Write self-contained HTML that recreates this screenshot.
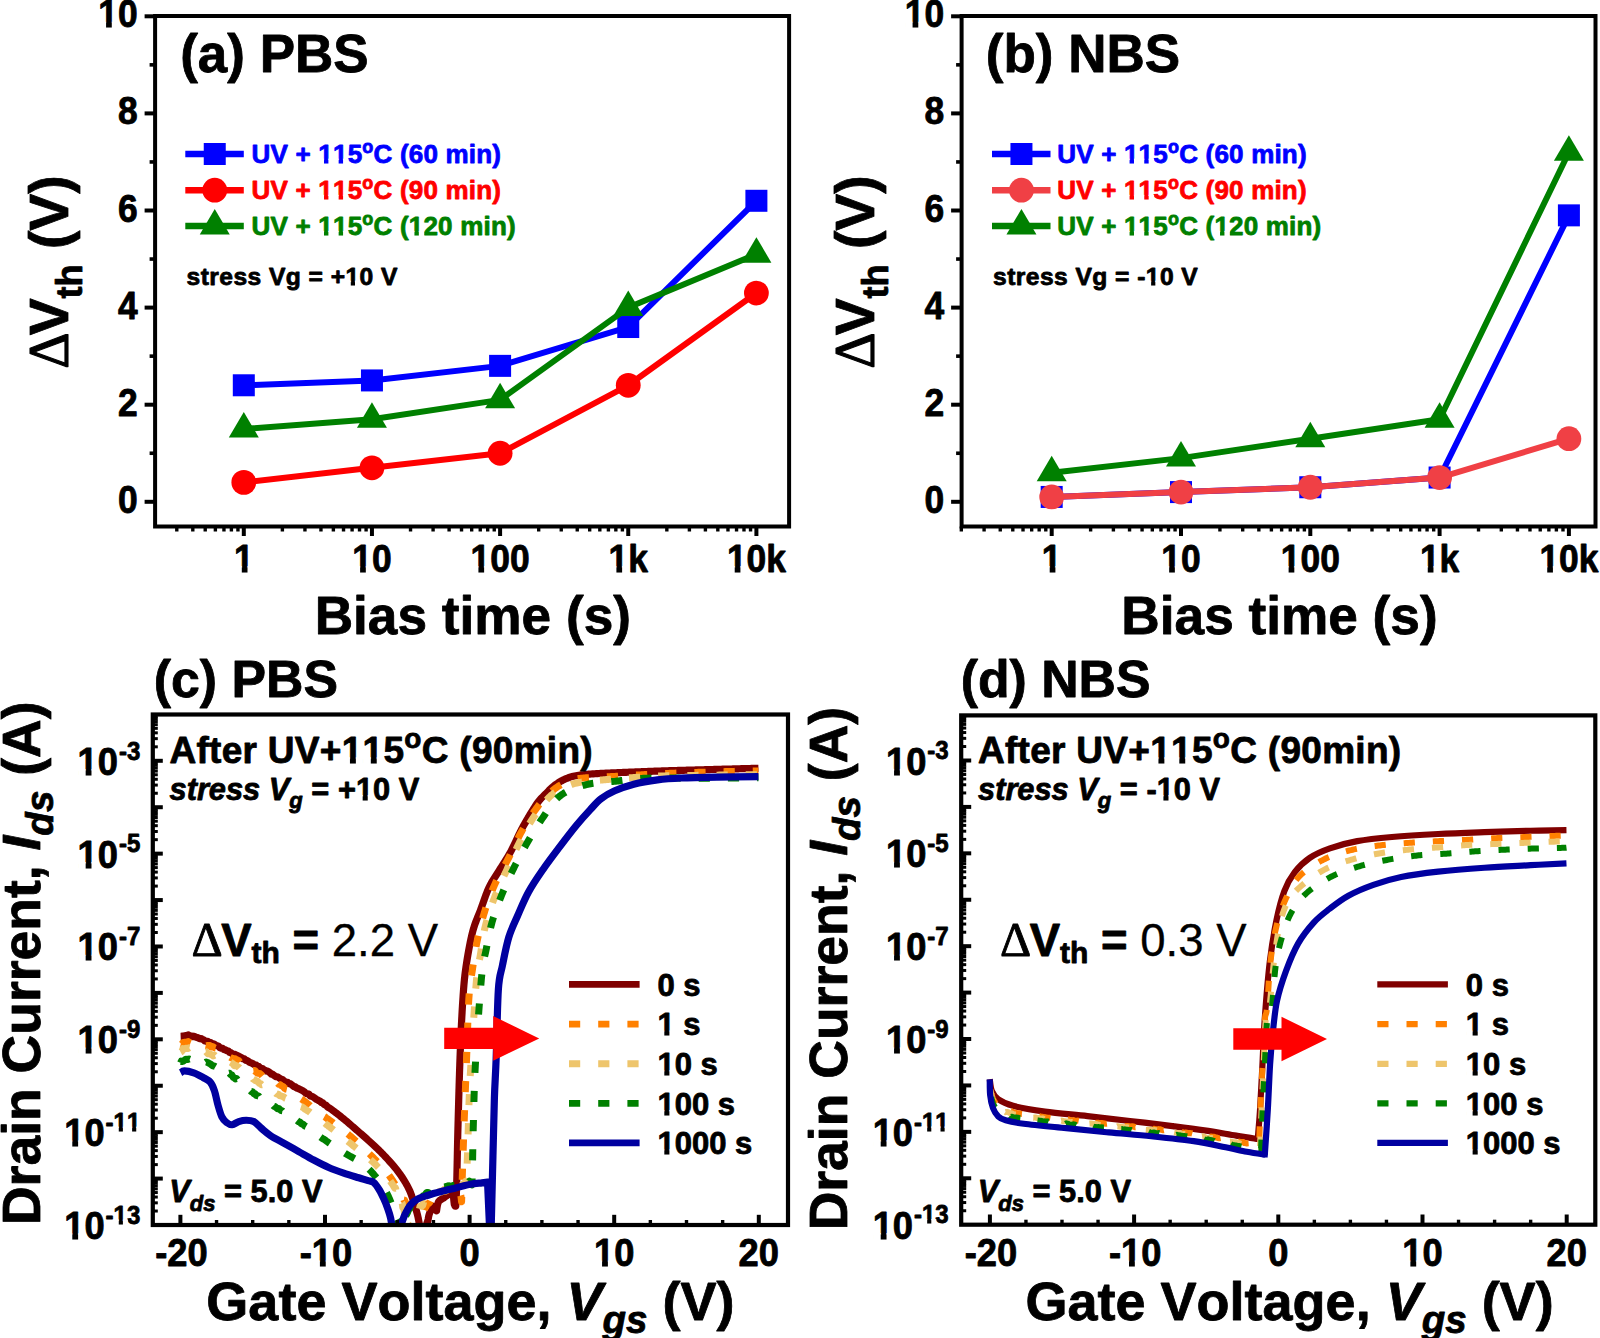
<!DOCTYPE html>
<html lang="en"><head><meta charset="utf-8"><title>Bias stress stability: PBS and NBS</title>
<style>html,body{margin:0;padding:0;background:#fff}body{width:1600px;height:1338px;overflow:hidden}svg{display:block}text{font-family:'Liberation Sans', Arial, Helvetica, sans-serif;font-kerning:none}</style></head><body>
<svg width="1600" height="1338" viewBox="0 0 1600 1338">
<rect x="0" y="0" width="1600" height="1338" fill="#fff"/>
<g>
<line x1="144.6" y1="501.8" x2="155.1" y2="501.8" stroke="#000" stroke-width="4"/>
<line x1="149.6" y1="453.25" x2="155.1" y2="453.25" stroke="#000" stroke-width="3.6"/>
<line x1="144.6" y1="404.7" x2="155.1" y2="404.7" stroke="#000" stroke-width="4"/>
<line x1="149.6" y1="356.15" x2="155.1" y2="356.15" stroke="#000" stroke-width="3.6"/>
<line x1="144.6" y1="307.6" x2="155.1" y2="307.6" stroke="#000" stroke-width="4"/>
<line x1="149.6" y1="259.05" x2="155.1" y2="259.05" stroke="#000" stroke-width="3.6"/>
<line x1="144.6" y1="210.5" x2="155.1" y2="210.5" stroke="#000" stroke-width="4"/>
<line x1="149.6" y1="161.95" x2="155.1" y2="161.95" stroke="#000" stroke-width="3.6"/>
<line x1="144.6" y1="113.4" x2="155.1" y2="113.4" stroke="#000" stroke-width="4"/>
<line x1="149.6" y1="64.85" x2="155.1" y2="64.85" stroke="#000" stroke-width="3.6"/>
<line x1="144.6" y1="16.3" x2="155.1" y2="16.3" stroke="#000" stroke-width="4"/>
<line x1="176.79" y1="526.5" x2="176.79" y2="531.5" stroke="#000" stroke-width="3.4"/>
<line x1="192.8" y1="526.5" x2="192.8" y2="531.5" stroke="#000" stroke-width="3.4"/>
<line x1="205.22" y1="526.5" x2="205.22" y2="531.5" stroke="#000" stroke-width="3.4"/>
<line x1="215.37" y1="526.5" x2="215.37" y2="531.5" stroke="#000" stroke-width="3.4"/>
<line x1="223.95" y1="526.5" x2="223.95" y2="531.5" stroke="#000" stroke-width="3.4"/>
<line x1="231.38" y1="526.5" x2="231.38" y2="531.5" stroke="#000" stroke-width="3.4"/>
<line x1="237.94" y1="526.5" x2="237.94" y2="531.5" stroke="#000" stroke-width="3.4"/>
<line x1="243.8" y1="526.5" x2="243.8" y2="536" stroke="#000" stroke-width="4"/>
<line x1="282.38" y1="526.5" x2="282.38" y2="531.5" stroke="#000" stroke-width="3.4"/>
<line x1="304.94" y1="526.5" x2="304.94" y2="531.5" stroke="#000" stroke-width="3.4"/>
<line x1="320.95" y1="526.5" x2="320.95" y2="531.5" stroke="#000" stroke-width="3.4"/>
<line x1="333.37" y1="526.5" x2="333.37" y2="531.5" stroke="#000" stroke-width="3.4"/>
<line x1="343.52" y1="526.5" x2="343.52" y2="531.5" stroke="#000" stroke-width="3.4"/>
<line x1="352.1" y1="526.5" x2="352.1" y2="531.5" stroke="#000" stroke-width="3.4"/>
<line x1="359.53" y1="526.5" x2="359.53" y2="531.5" stroke="#000" stroke-width="3.4"/>
<line x1="366.09" y1="526.5" x2="366.09" y2="531.5" stroke="#000" stroke-width="3.4"/>
<line x1="371.95" y1="526.5" x2="371.95" y2="536" stroke="#000" stroke-width="4"/>
<line x1="410.53" y1="526.5" x2="410.53" y2="531.5" stroke="#000" stroke-width="3.4"/>
<line x1="433.09" y1="526.5" x2="433.09" y2="531.5" stroke="#000" stroke-width="3.4"/>
<line x1="449.1" y1="526.5" x2="449.1" y2="531.5" stroke="#000" stroke-width="3.4"/>
<line x1="461.52" y1="526.5" x2="461.52" y2="531.5" stroke="#000" stroke-width="3.4"/>
<line x1="471.67" y1="526.5" x2="471.67" y2="531.5" stroke="#000" stroke-width="3.4"/>
<line x1="480.25" y1="526.5" x2="480.25" y2="531.5" stroke="#000" stroke-width="3.4"/>
<line x1="487.68" y1="526.5" x2="487.68" y2="531.5" stroke="#000" stroke-width="3.4"/>
<line x1="494.24" y1="526.5" x2="494.24" y2="531.5" stroke="#000" stroke-width="3.4"/>
<line x1="500.1" y1="526.5" x2="500.1" y2="536" stroke="#000" stroke-width="4"/>
<line x1="538.68" y1="526.5" x2="538.68" y2="531.5" stroke="#000" stroke-width="3.4"/>
<line x1="561.24" y1="526.5" x2="561.24" y2="531.5" stroke="#000" stroke-width="3.4"/>
<line x1="577.25" y1="526.5" x2="577.25" y2="531.5" stroke="#000" stroke-width="3.4"/>
<line x1="589.67" y1="526.5" x2="589.67" y2="531.5" stroke="#000" stroke-width="3.4"/>
<line x1="599.82" y1="526.5" x2="599.82" y2="531.5" stroke="#000" stroke-width="3.4"/>
<line x1="608.4" y1="526.5" x2="608.4" y2="531.5" stroke="#000" stroke-width="3.4"/>
<line x1="615.83" y1="526.5" x2="615.83" y2="531.5" stroke="#000" stroke-width="3.4"/>
<line x1="622.39" y1="526.5" x2="622.39" y2="531.5" stroke="#000" stroke-width="3.4"/>
<line x1="628.25" y1="526.5" x2="628.25" y2="536" stroke="#000" stroke-width="4"/>
<line x1="666.83" y1="526.5" x2="666.83" y2="531.5" stroke="#000" stroke-width="3.4"/>
<line x1="689.39" y1="526.5" x2="689.39" y2="531.5" stroke="#000" stroke-width="3.4"/>
<line x1="705.4" y1="526.5" x2="705.4" y2="531.5" stroke="#000" stroke-width="3.4"/>
<line x1="717.82" y1="526.5" x2="717.82" y2="531.5" stroke="#000" stroke-width="3.4"/>
<line x1="727.97" y1="526.5" x2="727.97" y2="531.5" stroke="#000" stroke-width="3.4"/>
<line x1="736.55" y1="526.5" x2="736.55" y2="531.5" stroke="#000" stroke-width="3.4"/>
<line x1="743.98" y1="526.5" x2="743.98" y2="531.5" stroke="#000" stroke-width="3.4"/>
<line x1="750.54" y1="526.5" x2="750.54" y2="531.5" stroke="#000" stroke-width="3.4"/>
<line x1="756.4" y1="526.5" x2="756.4" y2="536" stroke="#000" stroke-width="4"/>
<rect x="155.1" y="16" width="634" height="510.5" fill="none" stroke="#000" stroke-width="4"/>
<text transform="translate(137.6 512.8) scale(1 1.08)" font-size="35.4" text-anchor="end" font-weight="bold" fill="#000" stroke="#000" stroke-width="0.8" stroke-linejoin="round">0</text>
<text transform="translate(137.6 415.7) scale(1 1.08)" font-size="35.4" text-anchor="end" font-weight="bold" fill="#000" stroke="#000" stroke-width="0.8" stroke-linejoin="round">2</text>
<text transform="translate(137.6 318.6) scale(1 1.08)" font-size="35.4" text-anchor="end" font-weight="bold" fill="#000" stroke="#000" stroke-width="0.8" stroke-linejoin="round">4</text>
<text transform="translate(137.6 221.5) scale(1 1.08)" font-size="35.4" text-anchor="end" font-weight="bold" fill="#000" stroke="#000" stroke-width="0.8" stroke-linejoin="round">6</text>
<text transform="translate(137.6 124.4) scale(1 1.08)" font-size="35.4" text-anchor="end" font-weight="bold" fill="#000" stroke="#000" stroke-width="0.8" stroke-linejoin="round">8</text>
<text transform="translate(137.6 27.3) scale(1 1.08)" font-size="35.4" text-anchor="end" font-weight="bold" fill="#000" stroke="#000" stroke-width="0.8" stroke-linejoin="round">10</text>
<text transform="translate(243.8 571.6) scale(1 1.08)" font-size="35.4" text-anchor="middle" font-weight="bold" fill="#000" stroke="#000" stroke-width="0.8" stroke-linejoin="round">1</text>
<text transform="translate(371.95 571.6) scale(1 1.08)" font-size="35.4" text-anchor="middle" font-weight="bold" fill="#000" stroke="#000" stroke-width="0.8" stroke-linejoin="round">10</text>
<text transform="translate(500.1 571.6) scale(1 1.08)" font-size="35.4" text-anchor="middle" font-weight="bold" fill="#000" stroke="#000" stroke-width="0.8" stroke-linejoin="round">100</text>
<text transform="translate(628.25 571.6) scale(1 1.08)" font-size="35.4" text-anchor="middle" font-weight="bold" fill="#000" stroke="#000" stroke-width="0.8" stroke-linejoin="round">1k</text>
<text transform="translate(756.4 571.6) scale(1 1.08)" font-size="35.4" text-anchor="middle" font-weight="bold" fill="#000" stroke="#000" stroke-width="0.8" stroke-linejoin="round">10k</text>
<text x="472.8" y="633.6" font-size="53.2" text-anchor="middle" font-weight="bold" fill="#000" stroke="#000" stroke-width="0.8" stroke-linejoin="round">Bias time (s)</text>
<text transform="translate(67.5 272) rotate(-90)" font-size="55.3" text-anchor="middle" font-weight="bold" fill="#000" stroke="#000" stroke-width="0.8" stroke-linejoin="round"><tspan font-family="'Liberation Serif','DejaVu Serif',serif" font-weight="normal" font-size="56.5" stroke-width="1.1">Δ</tspan><tspan dx="-3">V</tspan><tspan font-size="36" dy="14">th</tspan><tspan dy="-14"> (V)</tspan></text>
<text x="180.2" y="72" font-size="53" text-anchor="start" font-weight="bold" fill="#000" stroke="#000" stroke-width="0.8" stroke-linejoin="round">(a) PBS</text>
<path d="M243.8 385.28L371.95 380.43L500.1 365.86L628.25 327.02L756.4 200.79" fill="none" stroke="#0000ff" stroke-width="6" stroke-linejoin="round"/>
<rect x="232.8" y="374.28" width="22" height="22" fill="#0000ff"/>
<rect x="360.95" y="369.43" width="22" height="22" fill="#0000ff"/>
<rect x="489.1" y="354.86" width="22" height="22" fill="#0000ff"/>
<rect x="617.25" y="316.02" width="22" height="22" fill="#0000ff"/>
<rect x="745.4" y="189.79" width="22" height="22" fill="#0000ff"/>
<path d="M243.8 482.38L371.95 467.81L500.1 453.25L628.25 385.28L756.4 293.04" fill="none" stroke="#ff0000" stroke-width="6" stroke-linejoin="round"/>
<circle cx="243.8" cy="482.38" r="12.4" fill="#ff0000"/>
<circle cx="371.95" cy="467.81" r="12.4" fill="#ff0000"/>
<circle cx="500.1" cy="453.25" r="12.4" fill="#ff0000"/>
<circle cx="628.25" cy="385.28" r="12.4" fill="#ff0000"/>
<circle cx="756.4" cy="293.04" r="12.4" fill="#ff0000"/>
<path d="M243.8 428.98L371.95 419.26L500.1 399.85L628.25 307.6L756.4 254.2" fill="none" stroke="#008000" stroke-width="6" stroke-linejoin="round"/>
<path d="M243.8 411.98L258.8 437.48L228.8 437.48Z" fill="#008000"/>
<path d="M371.95 402.26L386.95 427.76L356.95 427.76Z" fill="#008000"/>
<path d="M500.1 382.85L515.1 408.35L485.1 408.35Z" fill="#008000"/>
<path d="M628.25 290.6L643.25 316.1L613.25 316.1Z" fill="#008000"/>
<path d="M756.4 237.2L771.4 262.7L741.4 262.7Z" fill="#008000"/>
<line x1="185.3" y1="154" x2="243.8" y2="154" stroke="#0000ff" stroke-width="6.5"/>
<rect x="203.75" y="143" width="22" height="22" fill="#0000ff"/>
<text x="251.6" y="162.8" font-size="26" text-anchor="start" font-weight="bold" fill="#0000ff" stroke="#0000ff" stroke-width="0.8" stroke-linejoin="round" letter-spacing="0.2">UV + 115<tspan font-size="18" dy="-10">o</tspan><tspan dy="10">C (60 min)</tspan></text>
<line x1="185.3" y1="190.2" x2="243.8" y2="190.2" stroke="#ff0000" stroke-width="6.5"/>
<circle cx="214.75" cy="190.2" r="12.4" fill="#ff0000"/>
<text x="251.6" y="199" font-size="26" text-anchor="start" font-weight="bold" fill="#ff0000" stroke="#ff0000" stroke-width="0.8" stroke-linejoin="round" letter-spacing="0.2">UV + 115<tspan font-size="18" dy="-10">o</tspan><tspan dy="10">C (90 min)</tspan></text>
<line x1="185.3" y1="226" x2="243.8" y2="226" stroke="#008000" stroke-width="6.5"/>
<path d="M214.75 209L229.75 234.5L199.75 234.5Z" fill="#008000"/>
<text x="251.6" y="235" font-size="26" text-anchor="start" font-weight="bold" fill="#008000" stroke="#008000" stroke-width="0.8" stroke-linejoin="round" letter-spacing="0.2">UV + 115<tspan font-size="18" dy="-10">o</tspan><tspan dy="10">C (120 min)</tspan></text>
<text x="186.5" y="284.7" font-size="24.6" text-anchor="start" font-weight="bold" fill="#000" stroke="#000" stroke-width="0.8" stroke-linejoin="round" letter-spacing="0.45">stress Vg = +10 V</text>
</g>
<g>
<line x1="951.1" y1="501.8" x2="961.6" y2="501.8" stroke="#000" stroke-width="4"/>
<line x1="956.1" y1="453.25" x2="961.6" y2="453.25" stroke="#000" stroke-width="3.6"/>
<line x1="951.1" y1="404.7" x2="961.6" y2="404.7" stroke="#000" stroke-width="4"/>
<line x1="956.1" y1="356.15" x2="961.6" y2="356.15" stroke="#000" stroke-width="3.6"/>
<line x1="951.1" y1="307.6" x2="961.6" y2="307.6" stroke="#000" stroke-width="4"/>
<line x1="956.1" y1="259.05" x2="961.6" y2="259.05" stroke="#000" stroke-width="3.6"/>
<line x1="951.1" y1="210.5" x2="961.6" y2="210.5" stroke="#000" stroke-width="4"/>
<line x1="956.1" y1="161.95" x2="961.6" y2="161.95" stroke="#000" stroke-width="3.6"/>
<line x1="951.1" y1="113.4" x2="961.6" y2="113.4" stroke="#000" stroke-width="4"/>
<line x1="956.1" y1="64.85" x2="961.6" y2="64.85" stroke="#000" stroke-width="3.6"/>
<line x1="951.1" y1="16.3" x2="961.6" y2="16.3" stroke="#000" stroke-width="4"/>
<line x1="961.32" y1="526.5" x2="961.32" y2="531.5" stroke="#000" stroke-width="3.4"/>
<line x1="984.09" y1="526.5" x2="984.09" y2="531.5" stroke="#000" stroke-width="3.4"/>
<line x1="1000.25" y1="526.5" x2="1000.25" y2="531.5" stroke="#000" stroke-width="3.4"/>
<line x1="1012.78" y1="526.5" x2="1012.78" y2="531.5" stroke="#000" stroke-width="3.4"/>
<line x1="1023.01" y1="526.5" x2="1023.01" y2="531.5" stroke="#000" stroke-width="3.4"/>
<line x1="1031.67" y1="526.5" x2="1031.67" y2="531.5" stroke="#000" stroke-width="3.4"/>
<line x1="1039.17" y1="526.5" x2="1039.17" y2="531.5" stroke="#000" stroke-width="3.4"/>
<line x1="1045.78" y1="526.5" x2="1045.78" y2="531.5" stroke="#000" stroke-width="3.4"/>
<line x1="1051.7" y1="526.5" x2="1051.7" y2="536" stroke="#000" stroke-width="4"/>
<line x1="1090.62" y1="526.5" x2="1090.62" y2="531.5" stroke="#000" stroke-width="3.4"/>
<line x1="1113.39" y1="526.5" x2="1113.39" y2="531.5" stroke="#000" stroke-width="3.4"/>
<line x1="1129.55" y1="526.5" x2="1129.55" y2="531.5" stroke="#000" stroke-width="3.4"/>
<line x1="1142.08" y1="526.5" x2="1142.08" y2="531.5" stroke="#000" stroke-width="3.4"/>
<line x1="1152.31" y1="526.5" x2="1152.31" y2="531.5" stroke="#000" stroke-width="3.4"/>
<line x1="1160.97" y1="526.5" x2="1160.97" y2="531.5" stroke="#000" stroke-width="3.4"/>
<line x1="1168.47" y1="526.5" x2="1168.47" y2="531.5" stroke="#000" stroke-width="3.4"/>
<line x1="1175.08" y1="526.5" x2="1175.08" y2="531.5" stroke="#000" stroke-width="3.4"/>
<line x1="1181" y1="526.5" x2="1181" y2="536" stroke="#000" stroke-width="4"/>
<line x1="1219.92" y1="526.5" x2="1219.92" y2="531.5" stroke="#000" stroke-width="3.4"/>
<line x1="1242.69" y1="526.5" x2="1242.69" y2="531.5" stroke="#000" stroke-width="3.4"/>
<line x1="1258.85" y1="526.5" x2="1258.85" y2="531.5" stroke="#000" stroke-width="3.4"/>
<line x1="1271.38" y1="526.5" x2="1271.38" y2="531.5" stroke="#000" stroke-width="3.4"/>
<line x1="1281.61" y1="526.5" x2="1281.61" y2="531.5" stroke="#000" stroke-width="3.4"/>
<line x1="1290.27" y1="526.5" x2="1290.27" y2="531.5" stroke="#000" stroke-width="3.4"/>
<line x1="1297.77" y1="526.5" x2="1297.77" y2="531.5" stroke="#000" stroke-width="3.4"/>
<line x1="1304.38" y1="526.5" x2="1304.38" y2="531.5" stroke="#000" stroke-width="3.4"/>
<line x1="1310.3" y1="526.5" x2="1310.3" y2="536" stroke="#000" stroke-width="4"/>
<line x1="1349.22" y1="526.5" x2="1349.22" y2="531.5" stroke="#000" stroke-width="3.4"/>
<line x1="1371.99" y1="526.5" x2="1371.99" y2="531.5" stroke="#000" stroke-width="3.4"/>
<line x1="1388.15" y1="526.5" x2="1388.15" y2="531.5" stroke="#000" stroke-width="3.4"/>
<line x1="1400.68" y1="526.5" x2="1400.68" y2="531.5" stroke="#000" stroke-width="3.4"/>
<line x1="1410.91" y1="526.5" x2="1410.91" y2="531.5" stroke="#000" stroke-width="3.4"/>
<line x1="1419.57" y1="526.5" x2="1419.57" y2="531.5" stroke="#000" stroke-width="3.4"/>
<line x1="1427.07" y1="526.5" x2="1427.07" y2="531.5" stroke="#000" stroke-width="3.4"/>
<line x1="1433.68" y1="526.5" x2="1433.68" y2="531.5" stroke="#000" stroke-width="3.4"/>
<line x1="1439.6" y1="526.5" x2="1439.6" y2="536" stroke="#000" stroke-width="4"/>
<line x1="1478.52" y1="526.5" x2="1478.52" y2="531.5" stroke="#000" stroke-width="3.4"/>
<line x1="1501.29" y1="526.5" x2="1501.29" y2="531.5" stroke="#000" stroke-width="3.4"/>
<line x1="1517.45" y1="526.5" x2="1517.45" y2="531.5" stroke="#000" stroke-width="3.4"/>
<line x1="1529.98" y1="526.5" x2="1529.98" y2="531.5" stroke="#000" stroke-width="3.4"/>
<line x1="1540.21" y1="526.5" x2="1540.21" y2="531.5" stroke="#000" stroke-width="3.4"/>
<line x1="1548.87" y1="526.5" x2="1548.87" y2="531.5" stroke="#000" stroke-width="3.4"/>
<line x1="1556.37" y1="526.5" x2="1556.37" y2="531.5" stroke="#000" stroke-width="3.4"/>
<line x1="1562.98" y1="526.5" x2="1562.98" y2="531.5" stroke="#000" stroke-width="3.4"/>
<line x1="1568.9" y1="526.5" x2="1568.9" y2="536" stroke="#000" stroke-width="4"/>
<rect x="961.6" y="16" width="633.9" height="510.5" fill="none" stroke="#000" stroke-width="4"/>
<text transform="translate(944.1 512.8) scale(1 1.08)" font-size="35.4" text-anchor="end" font-weight="bold" fill="#000" stroke="#000" stroke-width="0.8" stroke-linejoin="round">0</text>
<text transform="translate(944.1 415.7) scale(1 1.08)" font-size="35.4" text-anchor="end" font-weight="bold" fill="#000" stroke="#000" stroke-width="0.8" stroke-linejoin="round">2</text>
<text transform="translate(944.1 318.6) scale(1 1.08)" font-size="35.4" text-anchor="end" font-weight="bold" fill="#000" stroke="#000" stroke-width="0.8" stroke-linejoin="round">4</text>
<text transform="translate(944.1 221.5) scale(1 1.08)" font-size="35.4" text-anchor="end" font-weight="bold" fill="#000" stroke="#000" stroke-width="0.8" stroke-linejoin="round">6</text>
<text transform="translate(944.1 124.4) scale(1 1.08)" font-size="35.4" text-anchor="end" font-weight="bold" fill="#000" stroke="#000" stroke-width="0.8" stroke-linejoin="round">8</text>
<text transform="translate(944.1 27.3) scale(1 1.08)" font-size="35.4" text-anchor="end" font-weight="bold" fill="#000" stroke="#000" stroke-width="0.8" stroke-linejoin="round">10</text>
<text transform="translate(1051.7 571.6) scale(1 1.08)" font-size="35.4" text-anchor="middle" font-weight="bold" fill="#000" stroke="#000" stroke-width="0.8" stroke-linejoin="round">1</text>
<text transform="translate(1181 571.6) scale(1 1.08)" font-size="35.4" text-anchor="middle" font-weight="bold" fill="#000" stroke="#000" stroke-width="0.8" stroke-linejoin="round">10</text>
<text transform="translate(1310.3 571.6) scale(1 1.08)" font-size="35.4" text-anchor="middle" font-weight="bold" fill="#000" stroke="#000" stroke-width="0.8" stroke-linejoin="round">100</text>
<text transform="translate(1439.6 571.6) scale(1 1.08)" font-size="35.4" text-anchor="middle" font-weight="bold" fill="#000" stroke="#000" stroke-width="0.8" stroke-linejoin="round">1k</text>
<text transform="translate(1568.9 571.6) scale(1 1.08)" font-size="35.4" text-anchor="middle" font-weight="bold" fill="#000" stroke="#000" stroke-width="0.8" stroke-linejoin="round">10k</text>
<text x="1279.5" y="633.6" font-size="53.2" text-anchor="middle" font-weight="bold" fill="#000" stroke="#000" stroke-width="0.8" stroke-linejoin="round">Bias time (s)</text>
<text transform="translate(874 272) rotate(-90)" font-size="55.3" text-anchor="middle" font-weight="bold" fill="#000" stroke="#000" stroke-width="0.8" stroke-linejoin="round"><tspan font-family="'Liberation Serif','DejaVu Serif',serif" font-weight="normal" font-size="56.5" stroke-width="1.1">Δ</tspan><tspan dx="-3">V</tspan><tspan font-size="36" dy="14">th</tspan><tspan dy="-14"> (V)</tspan></text>
<text x="985.8" y="72" font-size="53" text-anchor="start" font-weight="bold" fill="#000" stroke="#000" stroke-width="0.8" stroke-linejoin="round">(b) NBS</text>
<path d="M1051.7 496.94L1181 492.09L1310.3 487.24L1439.6 477.53L1568.9 215.36" fill="none" stroke="#0000ff" stroke-width="6" stroke-linejoin="round"/>
<rect x="1040.7" y="485.94" width="22" height="22" fill="#0000ff"/>
<rect x="1170" y="481.09" width="22" height="22" fill="#0000ff"/>
<rect x="1299.3" y="476.24" width="22" height="22" fill="#0000ff"/>
<rect x="1428.6" y="466.53" width="22" height="22" fill="#0000ff"/>
<rect x="1557.9" y="204.36" width="22" height="22" fill="#0000ff"/>
<path d="M1051.7 496.94L1181 492.09L1310.3 487.24L1439.6 477.53L1568.9 438.69" fill="none" stroke="#f04045" stroke-width="6" stroke-linejoin="round"/>
<circle cx="1051.7" cy="496.94" r="12.4" fill="#f04045"/>
<circle cx="1181" cy="492.09" r="12.4" fill="#f04045"/>
<circle cx="1310.3" cy="487.24" r="12.4" fill="#f04045"/>
<circle cx="1439.6" cy="477.53" r="12.4" fill="#f04045"/>
<circle cx="1568.9" cy="438.69" r="12.4" fill="#f04045"/>
<path d="M1051.7 472.67L1181 458.11L1310.3 438.69L1439.6 419.26L1568.9 152.24" fill="none" stroke="#008000" stroke-width="6" stroke-linejoin="round"/>
<path d="M1051.7 455.67L1066.7 481.17L1036.7 481.17Z" fill="#008000"/>
<path d="M1181 441.11L1196 466.61L1166 466.61Z" fill="#008000"/>
<path d="M1310.3 421.69L1325.3 447.19L1295.3 447.19Z" fill="#008000"/>
<path d="M1439.6 402.26L1454.6 427.76L1424.6 427.76Z" fill="#008000"/>
<path d="M1568.9 135.24L1583.9 160.74L1553.9 160.74Z" fill="#008000"/>
<line x1="992" y1="154" x2="1050.5" y2="154" stroke="#0000ff" stroke-width="6.5"/>
<rect x="1010.45" y="143" width="22" height="22" fill="#0000ff"/>
<text x="1057.2" y="162.8" font-size="26" text-anchor="start" font-weight="bold" fill="#0000ff" stroke="#0000ff" stroke-width="0.8" stroke-linejoin="round" letter-spacing="0.2">UV + 115<tspan font-size="18" dy="-10">o</tspan><tspan dy="10">C (60 min)</tspan></text>
<line x1="992" y1="190.2" x2="1050.5" y2="190.2" stroke="#f04045" stroke-width="6.5"/>
<circle cx="1021.45" cy="190.2" r="12.4" fill="#f04045"/>
<text x="1057.2" y="199" font-size="26" text-anchor="start" font-weight="bold" fill="#ff0000" stroke="#ff0000" stroke-width="0.8" stroke-linejoin="round" letter-spacing="0.2">UV + 115<tspan font-size="18" dy="-10">o</tspan><tspan dy="10">C (90 min)</tspan></text>
<line x1="992" y1="226" x2="1050.5" y2="226" stroke="#008000" stroke-width="6.5"/>
<path d="M1021.45 209L1036.45 234.5L1006.45 234.5Z" fill="#008000"/>
<text x="1057.2" y="235" font-size="26" text-anchor="start" font-weight="bold" fill="#008000" stroke="#008000" stroke-width="0.8" stroke-linejoin="round" letter-spacing="0.2">UV + 115<tspan font-size="18" dy="-10">o</tspan><tspan dy="10">C (120 min)</tspan></text>
<text x="993" y="284.7" font-size="24.6" text-anchor="start" font-weight="bold" fill="#000" stroke="#000" stroke-width="0.8" stroke-linejoin="round" letter-spacing="0.45">stress Vg = -10 V</text>
</g>
<g>
<clipPath id="clipc"><rect x="152.8" y="714.5" width="635.2" height="510.5"/></clipPath>
<g clip-path="url(#clipc)" fill="none" stroke-linejoin="round">
<path d="M180.63 1036.36L181.42 1036.33L182.5 1036.15L183.79 1036.03L185.21 1035.63L186.68 1035.66L188.13 1034.89L189.32 1035.42L190.5 1036.06L191.72 1036.07L192.99 1036.64L194.36 1036.35L195.85 1037.16L197.5 1037.52L198.62 1038.18L199.78 1038.62L200.98 1038.56L202.23 1039.21L203.52 1039.76L204.86 1040.87L206.26 1041.3L207.72 1041.36L209.24 1042.58L210.83 1042.68L212.5 1043.86L213.63 1043.93L214.8 1044.35L216.02 1045.7L217.28 1045.7L218.57 1046.31L219.89 1047.63L221.23 1048.18L222.59 1048.31L223.97 1049.59L225.36 1049.89L226.76 1050.7L228.15 1050.96L229.55 1052.31L230.93 1052.77L232.31 1053.7L233.66 1054.31L235 1054.44L236.32 1055.16L237.65 1055.65L238.97 1056.31L240.29 1056.91L241.62 1057.79L242.94 1058.74L244.27 1058.88L245.59 1060.17L246.91 1060.55L248.24 1061.22L249.56 1062.36L250.88 1062.75L252.21 1063.29L253.53 1064.14L254.85 1065.04L256.18 1065.15L257.5 1066.68L258.75 1066.48L260 1067.8L261.25 1068.56L262.5 1068.48L263.75 1069.84L265 1070.14L266.25 1071L267.5 1071.17L268.75 1071.88L270 1072.68L271.25 1074.05L272.5 1074.05L273.75 1075.24L275 1076.08L276.25 1076.78L277.5 1076.92L278.75 1077.62L280 1078.46L281.26 1079.38L282.52 1079.47L283.79 1080.75L285.07 1081.5L286.36 1082.26L287.64 1082.23L288.92 1083.76L290.21 1083.7L291.49 1084.63L292.76 1085.59L294.02 1086.57L295.28 1086.75L296.52 1087.98L297.75 1088.33L298.97 1088.81L300.17 1089.5L301.34 1090.04L302.5 1090.62L303.86 1091.47L305.19 1092.72L306.49 1093.74L307.77 1093.73L309.03 1094.35L310.27 1095.92L311.5 1096.23L312.72 1096.83L313.93 1097.4L315.14 1098.45L316.35 1099.4L317.56 1099.83L318.78 1100.57L320.01 1101.03L321.25 1102.63L322.42 1102.61L323.59 1103.82L324.77 1104.94L325.94 1105.12L327.11 1106.48L328.28 1107.51L329.45 1108.07L330.63 1108.8L331.8 1109.66L332.97 1110.53L334.14 1111.41L335.31 1112.3L336.49 1113.2L337.66 1114.1L338.83 1115.02L340 1115.94L341.1 1116.82L342.21 1117.7L343.31 1118.6L344.41 1119.51L345.52 1120.43L346.62 1121.36L347.72 1122.29L348.82 1123.23L349.93 1124.18L351.03 1125.13L352.13 1126.09L353.24 1127.05L354.34 1128.01L355.44 1128.98L356.55 1129.94L357.65 1130.91L358.75 1131.88L359.86 1132.85L360.98 1133.82L362.11 1134.81L363.24 1135.8L364.38 1136.8L365.52 1137.8L366.66 1138.8L367.79 1139.81L368.93 1140.82L370.05 1141.82L371.16 1142.83L372.26 1143.83L373.35 1144.82L374.42 1145.82L375.47 1146.8L376.5 1147.78L377.5 1148.75L378.62 1149.85L379.73 1150.95L380.83 1152.06L381.92 1153.17L382.99 1154.27L384.04 1155.37L385.08 1156.47L386.09 1157.55L387.09 1158.63L388.06 1159.69L389 1160.73L389.92 1161.76L390.81 1162.76L391.67 1163.74L392.5 1164.69L393.57 1165.93L394.57 1167.12L395.51 1168.26L396.4 1169.36L397.25 1170.43L398.06 1171.48L398.84 1172.53L399.61 1173.59L400.36 1174.65L401.12 1175.75L401.88 1176.88L402.64 1178.03L403.39 1179.21L404.13 1180.39L404.86 1181.58L405.57 1182.78L406.26 1183.98L406.94 1185.19L407.58 1186.4L408.21 1187.6L408.81 1188.8L409.38 1190L409.96 1191.31L410.51 1192.63L411.02 1193.94L411.5 1195.25L411.95 1196.56L412.39 1197.88L412.82 1199.19L413.23 1200.5L413.65 1201.81L414.06 1203.13L414.48 1204.44L414.9 1205.75L415.3 1207.06L415.69 1208.38L416.08 1209.69L416.45 1211L416.82 1212.31L417.16 1213.63L417.5 1214.94L417.81 1216.25L418.16 1217.78L418.49 1219.42L418.81 1221.11L419.12 1222.8L419.41 1224.44L419.67 1225.97L419.9 1227.34L420.09 1228.49L420.25 1229.38L421.28 1229.39L422.69 1229.42L423.72 1229.44L424.13 1228.65L424.73 1227.57L425.42 1226.29L426.14 1224.9L426.81 1223.49L427.36 1222.15L427.76 1220.86L428.07 1219.53L428.33 1218.19L428.59 1216.83L428.88 1215.48L429.25 1214.13L429.75 1212.71L430.34 1211.17L430.97 1209.63L431.58 1208.2L432.1 1206.99L432.46 1206.12L433.08 1206.83L433.99 1207.87L435.01 1209.03L435.92 1210.07L436.54 1210.78L436.69 1209.92L436.87 1208.72L437.09 1207.28L437.35 1205.75L437.68 1204.23L438.09 1202.86L438.58 1201.75L439.46 1200.62L440.53 1199.79L441.71 1199.1L442.93 1198.44L444.12 1197.67L445.31 1196.76L446.57 1195.82L447.81 1194.86L448.96 1193.91L449.95 1193.01L450.95 1191.85L451.77 1190.67L452.4 1189.64L452.86 1188.93L452.94 1189.8L453.04 1190.98L453.15 1192.39L453.28 1193.98L453.42 1195.67L453.57 1197.41L453.73 1199.11L453.88 1200.73L454.03 1202.19L454.18 1203.42L454.32 1204.37L455.14 1206.21L455.77 1206.12L455.81 1205.38L455.85 1204.61L455.9 1203.78L455.95 1202.88L456 1201.89L456.06 1200.79L456.13 1199.56L456.2 1198.18L456.27 1196.64L456.34 1194.9L456.42 1192.97L456.49 1190.8L456.57 1188.39L456.65 1185.72L456.68 1184.69L456.7 1183.62L456.73 1182.52L456.76 1181.37L456.79 1180.2L456.82 1178.98L456.85 1177.74L456.87 1176.46L456.9 1175.15L456.93 1173.82L456.96 1172.45L456.99 1171.06L457.02 1169.64L457.05 1168.19L457.08 1166.72L457.11 1165.23L457.14 1163.72L457.17 1162.19L457.21 1160.64L457.24 1159.07L457.27 1157.48L457.3 1155.88L457.34 1154.26L457.37 1152.64L457.41 1151L457.44 1149.34L457.48 1147.68L457.51 1146.01L457.55 1144.34L457.59 1142.65L457.63 1140.97L457.67 1139.27L457.71 1137.58L457.75 1135.89L457.79 1134.19L457.83 1132.5L457.87 1130.8L457.92 1129.12L457.96 1127.43L458 1126.08L458.03 1124.72L458.07 1123.33L458.11 1121.93L458.15 1120.51L458.18 1119.07L458.22 1117.62L458.26 1116.15L458.3 1114.67L458.34 1113.18L458.38 1111.68L458.42 1110.16L458.47 1108.64L458.51 1107.11L458.55 1105.57L458.59 1104.02L458.64 1102.46L458.68 1100.9L458.72 1099.34L458.77 1097.77L458.81 1096.2L458.86 1094.63L458.9 1093.05L458.95 1091.48L458.99 1089.9L459.04 1088.33L459.09 1086.76L459.13 1085.2L459.18 1083.63L459.23 1082.07L459.27 1080.52L459.32 1078.98L459.37 1077.44L459.42 1075.91L459.47 1074.39L459.51 1072.88L459.56 1071.38L459.61 1069.89L459.66 1068.42L459.71 1066.96L459.76 1065.51L459.8 1064.08L459.85 1062.67L459.9 1061.27L459.95 1059.89L460 1058.53L460.05 1057.19L460.1 1055.87L460.15 1054.57L460.21 1052.83L460.28 1051.1L460.35 1049.38L460.41 1047.68L460.48 1045.99L460.55 1044.32L460.62 1042.67L460.69 1041.02L460.76 1039.4L460.83 1037.79L460.9 1036.19L460.96 1034.61L461.04 1033.04L461.11 1031.49L461.18 1029.95L461.25 1028.43L461.32 1026.93L461.39 1025.44L461.46 1023.96L461.54 1022.5L461.61 1021.06L461.68 1019.63L461.76 1018.21L461.83 1016.81L461.91 1015.43L461.98 1014.06L462.06 1012.71L462.13 1011.38L462.21 1010.06L462.28 1008.75L462.36 1007.46L462.44 1006.19L462.51 1004.93L462.59 1003.69L462.67 1002.46L462.75 1001.25L462.87 999.41L462.99 997.64L463.1 995.94L463.21 994.31L463.32 992.73L463.43 991.21L463.54 989.73L463.65 988.3L463.76 986.9L463.87 985.53L463.98 984.18L464.1 982.86L464.22 981.55L464.35 980.25L464.48 978.95L464.62 977.65L464.77 976.34L464.92 975.02L465.08 973.67L465.26 972.31L465.44 970.91L465.63 969.48L465.84 968L466.04 966.61L466.24 965.2L466.46 963.76L466.68 962.31L466.91 960.84L467.15 959.36L467.39 957.86L467.64 956.36L467.89 954.86L468.15 953.35L468.42 951.85L468.68 950.34L468.96 948.85L469.24 947.36L469.52 945.89L469.81 944.42L470.1 942.98L470.39 941.56L470.68 940.16L470.98 938.78L471.28 937.43L471.58 936.11L471.88 934.83L472.18 933.58L472.49 932.38L472.94 930.67L473.41 929.02L473.89 927.44L474.38 925.92L474.88 924.45L475.38 923.02L475.9 921.63L476.41 920.28L476.93 918.95L477.46 917.64L477.98 916.35L478.5 915.07L479.02 913.8L479.53 912.52L480.04 911.24L480.54 909.94L481.04 908.63L481.55 907.22L482.06 905.81L482.55 904.4L483.05 903L483.53 901.61L484.02 900.23L484.5 898.85L484.99 897.49L485.47 896.15L485.97 894.81L486.47 893.5L486.97 892.21L487.49 890.93L488.02 889.68L488.56 888.45L489.11 887.25L489.81 885.82L490.53 884.46L491.25 883.14L491.99 881.86L492.74 880.62L493.49 879.4L494.26 878.19L495.04 876.98L495.83 875.76L496.63 874.53L497.44 873.27L498.26 871.97L499.09 870.63L499.82 869.44L500.56 868.25L501.31 867.05L502.07 865.85L502.84 864.64L503.62 863.42L504.41 862.19L505.2 860.95L505.99 859.68L506.78 858.4L507.58 857.09L508.37 855.77L509.16 854.42L509.95 853.04L510.73 851.63L511.37 850.42L512 849.2L512.63 847.94L513.26 846.67L513.89 845.37L514.51 844.06L515.13 842.73L515.75 841.4L516.38 840.05L517.01 838.69L517.65 837.33L518.29 835.97L518.94 834.61L519.6 833.24L520.27 831.89L520.96 830.54L521.65 829.2L522.36 827.88L523.06 826.61L523.78 825.31L524.52 823.98L525.29 822.63L526.07 821.27L526.86 819.91L527.66 818.54L528.46 817.17L529.26 815.81L530.07 814.47L530.86 813.15L531.65 811.86L532.43 810.61L533.19 809.39L533.93 808.22L534.64 807.1L535.33 806.05L535.99 805.05L536.61 804.13L537.82 802.41L538.9 800.98L539.89 799.77L540.8 798.73L541.68 797.81L542.55 796.95L543.44 796.09L544.38 795.17L545.4 794.15L546.36 793.16L547.33 792.15L548.31 791.13L549.3 790.11L550.31 789.1L551.35 788.11L552.42 787.13L553.52 786.19L554.66 785.28L555.85 784.41L556.97 783.65L558.11 782.9L559.29 782.17L560.5 781.45L561.73 780.76L562.98 780.09L564.27 779.45L565.57 778.85L566.9 778.29L568.25 777.77L569.63 777.29L570.89 776.9L572.15 776.55L573.41 776.24L574.69 775.97L575.99 775.73L577.32 775.51L578.67 775.31L580.08 775.12L581.53 774.95L583.03 774.78L584.61 774.61L586.25 774.44L587.5 774.31L588.72 774.19L589.92 774.09L591.13 773.99L592.35 773.9L593.59 773.82L594.87 773.74L596.2 773.67L597.58 773.59L599.04 773.52L600.59 773.45L602.23 773.37L603.98 773.29L605.85 773.2L607.85 773.11L610 773.01L611.14 772.96L612.32 772.91L613.54 772.85L614.8 772.79L616.1 772.74L617.44 772.68L618.81 772.62L620.21 772.56L621.64 772.5L623.09 772.44L624.57 772.38L626.07 772.31L627.6 772.25L629.14 772.19L630.7 772.13L632.27 772.06L633.85 772L635.44 771.94L637.04 771.87L638.65 771.81L640.25 771.75L641.86 771.69L643.47 771.63L645.07 771.57L646.67 771.51L648.26 771.45L649.83 771.39L651.4 771.33L652.95 771.27L654.49 771.22L656.01 771.17L657.5 771.11L658.98 771.06L660.46 771.01L661.93 770.96L663.4 770.91L664.86 770.86L666.32 770.82L667.78 770.77L669.24 770.72L670.69 770.68L672.15 770.63L673.6 770.59L675.05 770.54L676.51 770.5L677.96 770.46L679.42 770.41L680.88 770.37L682.34 770.33L683.81 770.29L685.28 770.24L686.75 770.2L688.23 770.16L689.72 770.12L691.21 770.07L692.71 770.03L694.21 769.99L695.73 769.95L697.25 769.91L698.78 769.86L700.32 769.82L701.87 769.78L703.43 769.73L705 769.69L706.43 769.65L707.9 769.61L709.42 769.56L710.97 769.52L712.56 769.48L714.18 769.43L715.83 769.39L717.5 769.34L719.2 769.3L720.9 769.25L722.62 769.21L724.35 769.16L726.09 769.11L727.82 769.07L729.55 769.02L731.28 768.98L732.99 768.93L734.69 768.89L736.37 768.84L738.03 768.8L739.66 768.76L741.26 768.71L742.83 768.67L744.37 768.63L745.86 768.59L747.3 768.56L748.7 768.52L750.04 768.48L751.33 768.45L752.56 768.42L753.72 768.39L754.82 768.36L755.84 768.33L756.79 768.31L757.65 768.28L758.44 768.26" stroke="#800000" stroke-width="7.2"/>
<path d="M180.63 1043.65L181.25 1043.63L181.94 1043.96L182.85 1042.6L184.1 1042.32L185.81 1042.3L188.13 1041.62L189.12 1042.4L190.23 1042.78L191.44 1043.28L192.74 1042.07L194.12 1042.71L195.56 1042.53L197.05 1044.23L198.59 1044.29L200.16 1043.3L201.76 1045.51L203.36 1045.83L204.95 1045.59L206.54 1045.91L208.09 1045.42L209.62 1045.58L211.09 1047.07L212.5 1046.62L213.87 1047.4L215.23 1048.05L216.58 1048.2L217.92 1049.68L219.26 1050.27L220.58 1051.73L221.9 1051.77L223.21 1052.71L224.52 1053.14L225.83 1054.2L227.13 1054.53L228.44 1054.93L229.75 1057.07L231.05 1057.81L232.36 1058.26L233.68 1058.76L235 1058.79L236.25 1059.35L237.5 1060.19L238.75 1060.54L240 1062.52L241.25 1062.65L242.5 1064.18L243.75 1064.18L245 1065.91L246.25 1066.51L247.5 1065.91L248.75 1067.04L250 1068.93L251.25 1069.02L252.5 1070.57L253.75 1070.44L255 1070.71L256.25 1072.28L257.5 1073.22L258.75 1073.19L260 1073.63L261.25 1074.66L262.5 1076.21L263.75 1076.58L265 1076.37L266.25 1077.2L267.5 1077.66L268.75 1078.27L270 1079.84L271.25 1079.73L272.5 1080.86L273.75 1081.39L275 1081.77L276.25 1083.09L277.5 1083.12L278.75 1084.41L280 1084.59L281.18 1085.64L282.37 1086.15L283.55 1086.96L284.74 1088.41L285.92 1089L287.11 1089.28L288.29 1090.6L289.47 1090.75L290.66 1091.71L291.84 1092.92L293.03 1093.53L294.21 1093.88L295.4 1095.43L296.58 1095.62L297.76 1096.48L298.95 1097.71L300.13 1098.2L301.32 1099.01L302.5 1099.7L303.69 1100.56L304.87 1101.75L306.05 1102.39L307.24 1103.49L308.42 1104.23L309.61 1105.16L310.79 1106.34L311.97 1106.96L313.16 1107.91L314.34 1108.96L315.53 1109.52L316.71 1110.42L317.9 1111.67L319.08 1112.52L320.26 1113.19L321.45 1114.07L322.63 1115.18L323.82 1116.14L325 1116.77L326.19 1117.9L327.37 1118.75L328.55 1119.53L329.74 1120.34L330.92 1121.13L332.11 1121.98L333.29 1123.02L334.47 1123.74L335.66 1124.68L336.84 1125.48L338.03 1126.42L339.21 1127.27L340.4 1128.13L341.58 1129.02L342.76 1129.96L343.95 1130.87L345.13 1131.82L346.32 1132.77L347.5 1133.75L348.58 1134.65L349.66 1135.57L350.75 1136.5L351.84 1137.45L352.94 1138.4L354.04 1139.37L355.14 1140.35L356.24 1141.33L357.34 1142.33L358.44 1143.33L359.53 1144.33L360.62 1145.34L361.7 1146.35L362.78 1147.36L363.85 1148.37L364.9 1149.38L365.95 1150.39L366.98 1151.4L368 1152.4L369.01 1153.39L370 1154.38L371.08 1155.46L372.15 1156.53L373.21 1157.59L374.26 1158.65L375.3 1159.71L376.33 1160.76L377.35 1161.81L378.35 1162.87L379.35 1163.92L380.34 1164.99L381.31 1166.05L382.28 1167.13L383.24 1168.21L384.18 1169.31L385.12 1170.41L386.04 1171.53L386.95 1172.67L387.86 1173.83L388.75 1175L389.59 1176.15L390.44 1177.33L391.28 1178.54L392.11 1179.79L392.94 1181.05L393.76 1182.33L394.58 1183.63L395.38 1184.71L396.17 1186.39L396.95 1187.74L397.72 1188.05L398.47 1190.38L399.21 1192.32L399.92 1193.35L400.62 1194.28L401.29 1194.83L401.94 1196.63L402.57 1197.45L403.18 1198.25L403.75 1200.01L404.65 1200.17L405.47 1202.89L406.23 1202.9L406.93 1205.26L407.58 1206.26L408.18 1206.95L408.75 1208.97L409.28 1209.72L409.79 1211.06L410.28 1212.78L410.77 1212.7L411.25 1213.46L411.77 1215.42L412.26 1217.64L412.73 1218.31L413.17 1219.84L413.59 1222.8L413.97 1223.87L414.32 1224.92L414.64 1227.1L414.92 1227.24L415.17 1228.89L415.38 1228.81L416.55 1229.26L418.17 1229.99L419.34 1230.21L419.53 1229.36L419.76 1227.42L420.02 1226.6L420.32 1224.76L420.64 1222.97L420.99 1222.11L421.35 1221.17L421.73 1219.6L422.12 1217.76L422.52 1216.69L422.92 1213.99L423.32 1212.48L423.72 1211.86L424.33 1209.89L424.93 1208.31L425.54 1207.36L426.17 1206.54L426.87 1205.14L427.64 1203.68L428.53 1203.54L429.54 1202.65L430.47 1200.71L431.5 1199.06L432.61 1198.04L433.79 1198.69L435.01 1196.22L436.26 1196.59L437.52 1195.48L438.78 1194.17L440.01 1194.29L441.2 1192.1L442.53 1191.54L443.89 1191.4L445.28 1189.89L446.66 1190.74L448.03 1189L449.35 1188.24L450.61 1187.53L451.79 1188.14L452.86 1187.37L454.6 1187.09L456.16 1186.7L457.51 1186.69L458.61 1186.76L459.42 1186.07L459.54 1186.07L459.71 1187.83L459.91 1188.76L460.14 1190.12L460.39 1192.77L460.63 1195.05L460.88 1195.82L461.11 1197.67L461.31 1199.3L461.48 1201.2L461.6 1201.79L461.62 1201.2L461.65 1200.62L461.67 1199.02L461.7 1198.79L461.73 1197.94L461.76 1195.27L461.79 1195.65L461.82 1193.99L461.86 1191.53L461.89 1190.73L461.93 1189.58L461.98 1188.58L462.02 1185.97L462.07 1184.66L462.12 1183.51L462.17 1181.57L462.23 1179.15L462.28 1177.24L462.34 1175.27L462.41 1173.24L462.48 1171.15L462.52 1169.99L462.55 1168.8L462.6 1167.58L462.64 1166.33L462.68 1165.04L462.72 1163.73L462.77 1162.4L462.82 1161.03L462.86 1159.65L462.91 1158.24L462.96 1156.8L463.01 1155.35L463.06 1153.88L463.11 1152.39L463.16 1150.88L463.22 1149.35L463.27 1147.82L463.32 1146.27L463.38 1144.7L463.43 1143.13L463.49 1141.54L463.55 1139.95L463.6 1138.35L463.66 1136.75L463.72 1135.14L463.77 1133.53L463.83 1131.92L463.89 1130.3L463.95 1128.69L464 1127.08L464.06 1125.47L464.12 1123.86L464.18 1122.26L464.23 1120.67L464.29 1119.09L464.35 1117.51L464.4 1115.95L464.46 1114.4L464.52 1112.86L464.57 1111.4L464.62 1109.93L464.68 1108.46L464.73 1106.97L464.79 1105.49L464.85 1103.99L464.9 1102.49L464.96 1100.99L465.01 1099.48L465.07 1097.97L465.13 1096.46L465.19 1094.94L465.24 1093.42L465.3 1091.9L465.36 1090.38L465.42 1088.85L465.48 1087.33L465.53 1085.8L465.59 1084.28L465.65 1082.75L465.71 1081.23L465.77 1079.7L465.83 1078.18L465.89 1076.67L465.94 1075.15L466 1073.64L466.06 1072.13L466.12 1070.63L466.18 1069.13L466.23 1067.63L466.29 1066.15L466.35 1064.66L466.41 1063.19L466.46 1061.72L466.52 1060.25L466.57 1058.8L466.63 1057.35L466.69 1055.92L466.74 1054.49L466.79 1053.07L466.85 1051.66L466.91 1050.1L466.97 1048.53L467.02 1046.96L467.08 1045.38L467.13 1043.8L467.18 1042.21L467.24 1040.63L467.29 1039.04L467.34 1037.46L467.39 1035.87L467.44 1034.29L467.49 1032.71L467.54 1031.14L467.59 1029.57L467.64 1028.02L467.69 1026.46L467.74 1024.92L467.79 1023.39L467.84 1021.87L467.89 1020.36L467.94 1018.87L467.99 1017.39L468.04 1015.93L468.1 1014.48L468.15 1013.05L468.21 1011.64L468.26 1010.25L468.32 1008.88L468.38 1007.53L468.44 1006.21L468.51 1004.91L468.57 1003.64L468.64 1002.39L468.71 1001.17L468.78 999.98L468.85 998.82L468.93 997.69L469.07 995.69L469.21 993.81L469.37 992.05L469.52 990.38L469.68 988.8L469.84 987.3L470.01 985.88L470.17 984.51L470.35 983.2L470.52 981.92L470.7 980.68L470.89 979.45L471.08 978.24L471.27 977.02L471.46 975.8L471.66 974.56L471.86 973.28L472.07 971.97L472.28 970.61L472.49 969.19L472.69 967.8L472.9 966.4L473.1 965L473.31 963.59L473.53 962.18L473.74 960.76L473.96 959.34L474.18 957.91L474.4 956.49L474.63 955.06L474.86 953.63L475.1 952.2L475.34 950.78L475.58 949.35L475.84 947.93L476.09 946.51L476.36 945.1L476.63 943.69L476.9 942.29L477.19 940.89L477.48 939.5L477.79 938.05L478.1 936.59L478.43 935.14L478.76 933.69L479.09 932.24L479.43 930.79L479.78 929.34L480.14 927.9L480.49 926.46L480.86 925.03L481.23 923.6L481.61 922.17L481.99 920.75L482.38 919.34L482.77 917.93L483.18 916.53L483.58 915.14L483.99 913.75L484.41 912.37L484.84 911L485.29 909.57L485.74 908.16L486.2 906.76L486.65 905.37L487.12 903.99L487.58 902.62L488.06 901.25L488.54 899.89L489.03 898.54L489.53 897.19L490.04 895.84L490.55 894.49L491.09 893.13L491.63 891.78L492.19 890.41L492.76 889.04L493.35 887.66L493.95 886.28L494.58 884.88L495.16 883.6L495.76 882.32L496.39 881.03L497.03 879.73L497.69 878.43L498.36 877.12L499.04 875.82L499.74 874.5L500.44 873.19L501.15 871.88L501.86 870.56L502.58 869.25L503.3 867.93L504.01 866.62L504.73 865.31L505.43 864.01L506.13 862.71L506.83 861.41L507.51 860.12L508.17 858.84L508.83 857.56L509.5 856.23L510.16 854.89L510.81 853.55L511.45 852.21L512.09 850.88L512.72 849.54L513.34 848.21L513.97 846.88L514.59 845.55L515.21 844.23L515.83 842.92L516.45 841.61L517.08 840.31L517.71 839.01L518.34 837.72L518.99 836.45L519.64 835.18L520.3 833.92L520.97 832.67L521.65 831.44L522.38 830.14L523.13 828.85L523.88 827.55L524.64 826.26L525.41 824.97L526.19 823.68L526.98 822.41L527.77 821.14L528.56 819.89L529.35 818.65L530.15 817.42L530.94 816.21L531.73 815.03L532.52 813.86L533.3 812.71L534.08 811.59L534.86 810.5L535.62 809.43L536.38 808.4L537.39 807.04L538.41 805.71L539.42 804.43L540.42 803.18L541.42 801.98L542.42 800.81L543.41 799.67L544.4 798.57L545.38 797.51L546.35 796.49L547.31 795.5L548.27 794.54L549.21 793.62L550.15 792.73L551.32 791.65L552.44 790.66L553.54 789.74L554.62 788.87L555.69 788.06L556.76 787.3L557.84 786.58L558.95 785.89L560.09 785.23L561.27 784.58L562.5 783.94L563.73 783.32L564.93 782.73L566.1 782.17L567.29 781.64L568.51 781.13L569.78 780.66L571.15 780.22L572.62 779.8L574.22 779.41L575.99 779.05L577.94 778.71L579.07 778.54L580.2 778.39L581.34 778.26L582.49 778.14L583.66 778.04L584.86 777.94L586.09 777.86L587.36 777.78L588.67 777.71L590.04 777.64L591.45 777.58L592.93 777.52L594.47 777.45L596.09 777.38L597.78 777.31L599.56 777.23L601.43 777.14L603.39 777.05L605.46 776.94L607.63 776.81L608.76 776.75L609.93 776.68L611.13 776.61L612.36 776.53L613.63 776.46L614.92 776.38L616.25 776.3L617.6 776.22L618.98 776.13L620.38 776.05L621.81 775.96L623.26 775.88L624.73 775.79L626.21 775.7L627.72 775.61L629.24 775.52L630.77 775.43L632.32 775.33L633.89 775.24L635.46 775.15L637.04 775.06L638.63 774.97L640.23 774.87L641.83 774.78L643.43 774.69L645.04 774.6L646.65 774.51L648.25 774.43L649.86 774.34L651.46 774.25L653.06 774.17L654.65 774.08L656.24 774L657.81 773.92L659.38 773.84L660.93 773.77L662.47 773.7L664 773.62L665.51 773.55L667 773.49L668.49 773.42L670 773.36L671.53 773.3L673.06 773.23L674.61 773.17L676.17 773.11L677.74 773.06L679.31 773L680.9 772.94L682.49 772.88L684.08 772.83L685.67 772.78L687.27 772.72L688.87 772.67L690.47 772.62L692.06 772.57L693.65 772.52L695.24 772.47L696.82 772.42L698.4 772.37L699.96 772.33L701.52 772.28L703.06 772.24L704.59 772.19L706.11 772.15L707.61 772.11L709.1 772.07L710.57 772.03L712.02 771.99L713.45 771.95L714.86 771.91L716.25 771.87L717.61 771.83L718.95 771.79L720.26 771.76L721.55 771.72L722.8 771.69L724.02 771.65L725.22 771.62L726.38 771.59L728.43 771.53L730.44 771.48L732.4 771.42L734.3 771.38L736.16 771.33L737.96 771.29L739.71 771.25L741.4 771.21L743.03 771.18L744.6 771.14L746.12 771.11L747.57 771.08L748.96 771.06L750.29 771.03L751.55 771.01L752.75 770.99L753.87 770.97L754.93 770.95L755.92 770.93L756.83 770.91L757.67 770.89L758.44 770.88" stroke="#ff8000" stroke-width="7" stroke-dasharray="11.2 18" stroke-dashoffset="0"/>
<path d="M180.63 1052.1L181.27 1051.74L182.01 1050.99L182.97 1048.66L184.24 1049.04L185.92 1048.3L188.13 1048.5L189.12 1047.81L190.22 1048.09L191.42 1048.79L192.7 1048.58L194.05 1049.33L195.46 1048.77L196.93 1049.23L198.44 1050.85L199.97 1050.67L201.53 1051.26L203.09 1052.14L204.65 1051.85L206.19 1051.71L207.71 1053.64L209.19 1053.75L210.63 1054.38L211.95 1054.78L213.27 1055.97L214.6 1055.26L215.92 1056.57L217.24 1056.32L218.57 1057.27L219.89 1058.02L221.21 1057.91L222.54 1058.05L223.86 1059.44L225.18 1060.57L226.51 1060.97L227.83 1061.36L229.15 1062.43L230.48 1062.27L231.8 1063.01L233.13 1064.05L234.31 1065.67L235.48 1065.27L236.66 1065.89L237.83 1066.66L239 1067.38L240.17 1068.63L241.33 1070L242.5 1071.28L243.67 1071.33L244.84 1072.28L246.02 1073.03L247.2 1073.95L248.38 1075.6L249.57 1076.12L250.77 1076.54L251.97 1077.18L253.18 1079.08L254.4 1079.8L255.63 1080.8L256.8 1080.7L257.99 1081.93L259.18 1083.23L260.38 1083.53L261.59 1084.79L262.8 1084.49L264.02 1086.35L265.24 1085.88L266.47 1087.12L267.7 1087.37L268.93 1089.14L270.16 1089.73L271.39 1090.82L272.63 1091.35L273.86 1092.25L275.1 1092.49L276.33 1093.73L277.55 1094.17L278.78 1094.44L280 1095.83L281.28 1095.91L282.57 1096.43L283.85 1097.01L285.13 1098.08L286.42 1098.49L287.7 1099.85L288.98 1100.51L290.26 1100.47L291.55 1101.02L292.83 1102.05L294.11 1102.4L295.4 1103.37L296.68 1104.26L297.96 1104.5L299.24 1105.34L300.53 1106.42L301.81 1106.83L303.09 1107.53L304.38 1108.7L305.54 1109.39L306.71 1110.2L307.87 1110.85L309.05 1111.49L310.22 1112.47L311.39 1113.37L312.57 1114.1L313.75 1114.75L314.92 1115.64L316.09 1116.57L317.27 1117.62L318.44 1118.4L319.6 1119.28L320.76 1120.27L321.92 1120.87L323.08 1121.96L324.23 1122.73L325.37 1123.68L326.5 1124.64L327.63 1125.32L328.75 1126.37L329.92 1127.03L331.08 1128.04L332.23 1128.92L333.37 1129.75L334.51 1130.69L335.64 1131.56L336.76 1132.44L337.89 1133.36L339 1134.16L340.12 1135.09L341.23 1136L342.34 1136.85L343.45 1137.77L344.56 1138.65L345.67 1139.54L346.78 1140.44L347.89 1141.34L349.01 1142.24L350.13 1143.15L351.25 1144.06L352.38 1144.98L353.52 1145.89L354.66 1146.8L355.81 1147.71L356.96 1148.62L358.12 1149.53L359.28 1150.44L360.43 1151.36L361.59 1152.28L362.74 1153.2L363.88 1154.13L365.02 1155.07L366.15 1156.01L367.28 1156.95L368.39 1157.91L369.49 1158.87L370.58 1159.84L371.65 1160.82L372.71 1161.81L373.75 1162.81L374.78 1163.82L375.81 1164.84L376.84 1165.87L377.86 1166.9L378.88 1167.94L379.89 1168.99L380.89 1170.04L381.88 1171.1L382.86 1172.17L383.83 1173.24L384.78 1174.32L385.72 1175.41L386.64 1176.51L387.55 1177.61L388.43 1178.72L389.29 1179.84L390.13 1180.96L390.95 1182.09L391.74 1183.23L392.5 1184.38L393.32 1185.67L394.11 1186.98L394.87 1188.32L395.61 1188.16L396.32 1192.07L397 1191.69L397.66 1193.37L398.3 1194.05L398.92 1197.74L399.52 1196.66L400.1 1200.21L400.67 1200.45L401.22 1202.77L401.75 1202.85L402.27 1203.47L402.77 1207.57L403.27 1208L403.75 1207.65L404.32 1211.86L404.86 1213.22L405.38 1212.39L405.88 1213.46L406.36 1217.04L406.82 1217.06L407.25 1220.59L407.65 1221.23L408.04 1223.49L408.39 1224.4L408.72 1226.35L409.02 1227.7L409.29 1228.03L409.54 1228.91L409.75 1228.8L410.54 1228.19L411.33 1228.08L411.57 1229.83L411.86 1226.65L412.19 1226.17L412.57 1224.46L412.98 1223.99L413.42 1222.17L413.89 1221.68L414.38 1218.7L414.88 1216.92L415.39 1216.43L415.91 1215.4L416.43 1214.82L417.12 1211.38L417.82 1212L418.53 1211.12L419.28 1209.99L420.06 1206.09L420.88 1205.88L421.76 1206.17L422.7 1205.34L423.72 1201.68L424.7 1201.91L425.74 1202.06L426.85 1201.24L427.99 1199.58L429.18 1197.6L430.4 1197.37L431.63 1195.36L432.88 1195.39L434.13 1194.97L435.37 1195.53L436.63 1194.05L437.9 1192.8L439.2 1191.61L440.51 1191.24L441.84 1191.84L443.17 1190.54L444.51 1189.1L445.84 1190.73L447.17 1189.4L448.49 1190.19L449.84 1188.24L451.25 1188.02L452.7 1186.86L454.15 1186.96L455.59 1187.52L456.99 1187.28L458.31 1185.79L459.54 1184.65L460.65 1183.09L461.6 1185.39L463.87 1183.36L465.16 1183.2L465.97 1182.06L466.02 1181.2L466.07 1181.53L466.13 1182.54L466.19 1179.96L466.27 1178.87L466.34 1177.7L466.42 1176.46L466.51 1175.12L466.59 1173.7L466.68 1172.18L466.78 1170.58L466.87 1168.88L466.97 1167.08L467.06 1165.19L467.16 1163.19L467.25 1161.09L467.34 1158.89L467.43 1156.58L467.47 1155.46L467.51 1154.28L467.56 1153.06L467.6 1151.79L467.64 1150.47L467.68 1149.11L467.73 1147.72L467.77 1146.28L467.81 1144.82L467.86 1143.32L467.9 1141.79L467.94 1140.23L467.99 1138.66L468.03 1137.06L468.08 1135.44L468.12 1133.81L468.17 1132.17L468.21 1130.52L468.26 1128.86L468.3 1127.19L468.35 1125.52L468.39 1123.86L468.44 1122.2L468.48 1120.54L468.53 1118.89L468.58 1117.26L468.62 1115.64L468.67 1114.03L468.71 1112.45L468.76 1110.89L468.81 1109.35L468.85 1107.84L468.9 1106.37L468.95 1104.92L468.99 1103.51L469.04 1102.14L469.09 1100.81L469.13 1099.53L469.18 1098.29L469.25 1096.46L469.32 1094.76L469.38 1093.17L469.44 1091.69L469.5 1090.29L469.55 1088.97L469.61 1087.72L469.66 1086.52L469.71 1085.35L469.77 1084.21L469.82 1083.09L469.88 1081.97L469.94 1080.84L470 1079.68L470.07 1078.49L470.14 1077.25L470.22 1075.95L470.3 1074.57L470.39 1073.12L470.48 1071.56L470.58 1069.89L470.69 1068.1L470.81 1066.17L470.94 1064.09L471.07 1061.86L471.14 1060.76L471.21 1059.62L471.28 1058.43L471.36 1057.2L471.43 1055.93L471.51 1054.63L471.59 1053.28L471.68 1051.91L471.76 1050.5L471.85 1049.06L471.94 1047.59L472.03 1046.09L472.12 1044.57L472.21 1043.02L472.31 1041.45L472.4 1039.86L472.5 1038.25L472.6 1036.63L472.7 1034.99L472.8 1033.34L472.9 1031.67L473.01 1030L473.11 1028.32L473.22 1026.63L473.32 1024.94L473.43 1023.25L473.53 1021.56L473.64 1019.87L473.75 1018.18L473.85 1016.5L473.96 1014.82L474.07 1013.15L474.18 1011.49L474.28 1009.85L474.39 1008.22L474.5 1006.6L474.6 1005L474.71 1003.42L474.82 1001.87L474.92 1000.33L475.02 998.82L475.13 997.34L475.23 995.88L475.33 994.45L475.43 993.06L475.53 991.7L475.63 990.38L475.73 989.09L475.83 987.84L475.92 986.64L476.02 985.47L476.11 984.35L476.2 983.28L476.29 982.25L476.52 979.67L476.75 977.33L476.97 975.21L477.19 973.28L477.41 971.53L477.62 969.95L477.83 968.5L478.03 967.17L478.24 965.95L478.44 964.81L478.64 963.73L478.85 962.7L479.05 961.69L479.26 960.69L479.47 959.68L479.68 958.63L479.89 957.54L480.11 956.37L480.33 955.12L480.56 953.75L480.79 952.33L481.01 950.9L481.23 949.48L481.45 948.05L481.66 946.63L481.87 945.2L482.09 943.78L482.3 942.35L482.52 940.93L482.74 939.5L482.98 938.08L483.21 936.65L483.46 935.23L483.72 933.8L483.99 932.38L484.27 930.95L484.56 929.53L484.88 928.1L485.2 926.68L485.55 925.25L485.91 923.82L486.29 922.39L486.69 920.95L487.09 919.51L487.51 918.07L487.94 916.63L488.38 915.18L488.83 913.74L489.3 912.29L489.77 910.85L490.25 909.41L490.73 907.98L491.23 906.55L491.72 905.13L492.23 903.71L492.74 902.3L493.25 900.9L493.77 899.5L494.29 898.12L494.81 896.75L495.34 895.39L495.88 894.05L496.42 892.71L496.97 891.39L497.53 890.08L498.1 888.78L498.67 887.48L499.25 886.19L499.84 884.9L500.42 883.61L501.02 882.33L501.61 881.05L502.21 879.76L502.81 878.48L503.42 877.18L504.02 875.89L504.63 874.59L505.24 873.28L505.84 871.96L506.45 870.63L507.03 869.35L507.61 868.06L508.19 866.77L508.77 865.46L509.36 864.15L509.94 862.84L510.53 861.52L511.12 860.2L511.72 858.88L512.31 857.56L512.91 856.23L513.51 854.91L514.11 853.6L514.72 852.29L515.33 850.98L515.94 849.68L516.55 848.38L517.17 847.1L517.79 845.83L518.41 844.56L519.04 843.31L519.73 841.94L520.42 840.57L521.12 839.21L521.81 837.84L522.51 836.49L523.2 835.14L523.9 833.8L524.61 832.46L525.32 831.13L526.03 829.81L526.75 828.5L527.48 827.2L528.21 825.91L528.95 824.62L529.71 823.35L530.47 822.09L531.24 820.84L532.02 819.6L532.81 818.38L533.63 817.15L534.46 815.91L535.32 814.66L536.19 813.41L537.08 812.16L537.97 810.92L538.88 809.68L539.79 808.45L540.71 807.25L541.63 806.06L542.54 804.9L543.45 803.76L544.35 802.66L545.25 801.6L546.12 800.58L546.98 799.61L547.82 798.68L548.64 797.81L549.44 797L550.76 795.74L552.01 794.66L553.23 793.72L554.4 792.91L555.55 792.19L556.68 791.55L557.81 790.97L558.95 790.41L560.1 789.86L561.28 789.3L562.5 788.69L563.7 788.06L564.83 787.46L565.92 786.88L567 786.32L568.09 785.79L569.24 785.27L570.47 784.78L571.8 784.3L573.28 783.84L574.92 783.41L576.75 782.99L577.85 782.77L579.02 782.55L580.25 782.35L581.54 782.15L582.87 781.96L584.25 781.78L585.67 781.6L587.13 781.43L588.61 781.26L590.11 781.1L591.63 780.95L593.17 780.79L594.71 780.64L596.25 780.5L597.79 780.35L599.32 780.21L600.84 780.07L602.34 779.94L603.81 779.8L605.25 779.66L606.67 779.53L608.08 779.4L609.48 779.27L610.88 779.15L612.26 779.03L613.65 778.92L615.04 778.81L616.42 778.7L617.81 778.59L619.2 778.49L620.6 778.39L622.01 778.29L623.43 778.19L624.85 778.09L626.29 778L627.75 777.9L629.22 777.81L630.71 777.71L632.22 777.62L633.75 777.53L635.05 777.44L636.27 777.36L637.42 777.28L638.53 777.2L639.59 777.12L640.62 777.05L641.65 776.97L642.67 776.89L643.71 776.82L644.77 776.74L645.87 776.67L647.03 776.6L648.25 776.53L649.55 776.46L650.94 776.39L652.44 776.32L654.06 776.25L655.81 776.18L657.71 776.12L659.76 776.05L661.98 775.99L664.39 775.93L667 775.86L668.05 775.84L669.15 775.82L670.31 775.79L671.52 775.77L672.77 775.75L674.07 775.72L675.41 775.7L676.8 775.67L678.22 775.65L679.68 775.63L681.18 775.6L682.72 775.58L684.28 775.56L685.88 775.53L687.5 775.51L689.15 775.49L690.83 775.46L692.52 775.44L694.24 775.42L695.98 775.4L697.73 775.37L699.49 775.35L701.27 775.33L703.06 775.31L704.86 775.28L706.66 775.26L708.47 775.24L710.28 775.22L712.09 775.2L713.9 775.18L715.7 775.15L717.5 775.13L719.29 775.11L721.08 775.09L722.85 775.07L724.61 775.05L726.35 775.03L728.08 775.02L729.78 775L731.47 774.98L733.13 774.96L734.77 774.94L736.38 774.92L737.96 774.91L739.51 774.89L741.02 774.87L742.5 774.86L743.95 774.84L745.35 774.83L746.71 774.81L748.04 774.8L749.31 774.78L750.54 774.77L751.72 774.76L752.85 774.74L753.92 774.73L754.94 774.72L755.91 774.71L756.81 774.7L757.66 774.69L758.44 774.68" stroke="#eec56c" stroke-width="7" stroke-dasharray="11.2 18" stroke-dashoffset="0"/>
<path d="M180.63 1062.86L181.27 1061.22L182.01 1061.54L182.97 1061.17L184.24 1060.41L185.92 1059.26L188.13 1059.39L189.12 1058.94L190.22 1059.38L191.42 1058.69L192.7 1060.03L194.05 1060.1L195.46 1059.72L196.93 1060.21L198.44 1061.25L199.97 1061.02L201.53 1062.44L203.09 1062.88L204.65 1063.05L206.19 1062.02L207.71 1062.48L209.19 1063.42L210.63 1064.1L211.88 1065.28L213.14 1066.05L214.4 1066.08L215.66 1066.81L216.93 1067.27L218.19 1066.82L219.46 1068.45L220.73 1068.49L221.99 1069.58L223.25 1069.46L224.51 1071.47L225.76 1072.71L227.01 1071.8L228.25 1073.56L229.48 1073.26L230.71 1074.68L231.92 1075.12L233.13 1077.24L234.32 1077.81L235.49 1078.97L236.65 1078.63L237.8 1080.44L238.94 1081.34L240.07 1081.96L241.2 1083.64L242.32 1084.11L243.44 1084.52L244.56 1086.24L245.68 1086.83L246.81 1087.38L247.94 1089.01L249.08 1089.06L250.23 1090.65L251.39 1091.75L252.56 1091.8L253.75 1093.66L254.95 1093.67L256.17 1095.35L257.39 1095.71L258.62 1096.07L259.86 1098.26L261.11 1097.72L262.36 1098.64L263.62 1099.89L264.88 1100.3L266.15 1101.44L267.41 1102.13L268.68 1103.01L269.95 1103.73L271.21 1104.18L272.48 1104.84L273.74 1106.18L275 1106.64L276.25 1107.52L277.5 1108.75L278.75 1108.51L280 1109.58L281.25 1110.66L282.5 1110.89L283.75 1112.38L285 1112.78L286.25 1113.47L287.5 1114.12L288.75 1115.62L290 1115.54L291.25 1117.02L292.5 1117.7L293.75 1118.65L295 1119.28L296.25 1119.79L297.5 1120.78L298.75 1121.89L299.94 1122.01L301.12 1123.42L302.3 1124.11L303.49 1124.6L304.67 1125.96L305.86 1126.36L307.04 1127.02L308.22 1128.05L309.41 1129.05L310.59 1129.63L311.78 1130.81L312.96 1131.59L314.15 1132.39L315.33 1133.45L316.51 1134.23L317.7 1135.23L318.88 1136.01L320.07 1136.83L321.25 1137.67L322.44 1138.45L323.62 1139.12L324.8 1139.79L325.99 1140.72L327.17 1141.57L328.36 1142.47L329.54 1143.18L330.72 1143.95L331.91 1144.63L333.09 1145.54L334.28 1146.22L335.46 1147.03L336.65 1147.8L337.83 1148.67L339.01 1149.46L340.2 1150.2L341.38 1150.94L342.57 1151.74L343.75 1152.49L345.01 1153.29L346.27 1154.05L347.54 1154.79L348.82 1155.51L350.11 1156.21L351.39 1156.91L352.67 1157.6L353.96 1158.3L355.24 1159L356.51 1159.72L357.77 1160.46L359.03 1161.22L360.27 1162L361.5 1162.83L362.72 1163.69L363.92 1164.59L365.09 1165.55L366.25 1166.56L367.23 1167.48L368.22 1168.43L369.2 1169.41L370.18 1170.43L371.16 1171.48L372.13 1172.55L373.09 1173.65L374.05 1174.77L374.99 1175.9L375.93 1177.06L376.85 1178.22L377.75 1179.4L378.64 1180.58L379.52 1181.77L380.37 1182.96L381.2 1184.15L382.01 1185.34L382.8 1186.52L383.56 1187.69L384.29 1188.85L385 1190L385.79 1191.35L386.55 1192.72L387.28 1194.12L387.98 1195.53L388.64 1196.97L389.29 1198.4L389.9 1199.85L390.49 1201.28L391.06 1202.72L391.61 1204.13L392.13 1205.53L392.63 1206.91L393.12 1208.26L393.59 1209.57L394.04 1210.85L394.48 1212.07L394.9 1213.25L395.31 1213.77L395.95 1215.55L396.52 1218.89L397.04 1219.67L397.51 1220.53L397.92 1222.65L398.3 1223.58L398.63 1226.13L398.92 1226.37L399.19 1228.52L399.42 1228.84L399.63 1229.74L400.74 1229.67L401.86 1229.64L402.11 1227.59L402.4 1228.37L402.75 1226.78L403.13 1224.53L403.54 1223.78L403.99 1223.38L404.47 1221.1L404.97 1219.28L405.49 1217.65L406.02 1215L406.57 1214.56L407.13 1213.04L407.69 1212.29L408.36 1210.23L409.06 1208.34L409.78 1208.7L410.53 1205.94L411.3 1204.62L412.09 1203.9L412.91 1203.96L413.76 1202.25L414.62 1199.85L415.51 1198.76L416.43 1198.84L417.59 1196.8L418.8 1196.36L420.05 1195.36L421.33 1196.55L422.65 1196.03L423.99 1195.46L425.34 1194.44L426.71 1192.44L428.09 1192.46L429.33 1193.3L430.59 1190.93L431.87 1191.58L433.16 1191.87L434.46 1190.14L435.78 1189.94L437.11 1190.23L438.46 1189.86L439.83 1188.23L441.2 1189.34L442.47 1187.22L443.76 1186.99L445.07 1186.93L446.39 1186.23L447.73 1186.42L449.07 1185.74L450.41 1186.24L451.76 1186.06L453.1 1185.58L454.44 1185.44L455.77 1183.66L457.29 1184.34L458.89 1184.38L460.55 1184.26L462.22 1183.04L463.86 1183.99L465.44 1182.51L466.92 1183.61L468.25 1182.89L469.41 1181.23L470.35 1183.09L472.06 1184.79L472.09 1179.89L472.14 1179.07L472.17 1178.19L472.21 1177.23L472.25 1176.22L472.28 1175.14L472.32 1174L472.35 1172.8L472.38 1171.55L472.41 1170.25L472.44 1168.91L472.47 1167.51L472.5 1166.08L472.53 1164.6L472.55 1163.09L472.58 1161.54L472.61 1159.96L472.64 1158.35L472.66 1156.71L472.69 1155.05L472.72 1153.37L472.75 1151.67L472.78 1149.95L472.81 1148.22L472.84 1146.48L472.87 1144.74L472.9 1142.98L472.94 1141.23L472.97 1139.47L473.01 1137.72L473.05 1135.98L473.08 1134.24L473.13 1132.51L473.17 1130.8L473.21 1129.11L473.26 1127.43L473.3 1126.08L473.34 1124.72L473.37 1123.36L473.41 1122L473.45 1120.64L473.48 1119.27L473.52 1117.9L473.55 1116.53L473.58 1115.15L473.62 1113.77L473.65 1112.38L473.69 1110.99L473.72 1109.6L473.76 1108.2L473.79 1106.79L473.83 1105.37L473.87 1103.95L473.91 1102.52L473.94 1101.09L473.98 1099.64L474.03 1098.19L474.07 1096.73L474.11 1095.25L474.16 1093.77L474.2 1092.28L474.25 1090.78L474.3 1089.27L474.36 1087.75L474.41 1086.21L474.47 1084.67L474.53 1083.11L474.59 1081.54L474.65 1079.95L474.72 1078.36L474.79 1076.75L474.86 1075.12L474.93 1073.48L475.01 1071.83L475.09 1070.16L475.17 1068.47L475.26 1066.77L475.35 1065.05L475.45 1063.32L475.52 1062.01L475.59 1060.67L475.67 1059.31L475.75 1057.92L475.83 1056.5L475.92 1055.06L476.01 1053.6L476.09 1052.12L476.19 1050.62L476.28 1049.1L476.37 1047.56L476.47 1046L476.57 1044.43L476.67 1042.84L476.77 1041.24L476.88 1039.63L476.98 1038.01L477.09 1036.38L477.19 1034.74L477.3 1033.1L477.41 1031.45L477.52 1029.79L477.63 1028.13L477.75 1026.47L477.86 1024.81L477.97 1023.15L478.09 1021.49L478.2 1019.83L478.32 1018.18L478.44 1016.54L478.55 1014.89L478.67 1013.26L478.78 1011.64L478.9 1010.02L479.02 1008.42L479.13 1006.83L479.25 1005.26L479.37 1003.7L479.48 1002.15L479.6 1000.62L479.71 999.12L479.83 997.63L479.94 996.16L480.05 994.71L480.17 993.29L480.28 991.89L480.39 990.52L480.5 989.18L480.6 987.86L480.71 986.58L480.82 985.32L480.92 984.1L481.02 982.91L481.13 981.75L481.22 980.63L481.32 979.55L481.42 978.51L481.51 977.5L481.78 974.78L482.04 972.32L482.29 970.11L482.53 968.11L482.77 966.32L483 964.7L483.23 963.24L483.45 961.92L483.67 960.71L483.9 959.6L484.12 958.55L484.34 957.56L484.57 956.61L484.79 955.66L485.02 954.7L485.26 953.71L485.5 952.66L485.75 951.55L486 950.33L486.26 949L486.54 947.53L486.82 946.07L487.1 944.61L487.38 943.15L487.66 941.7L487.94 940.25L488.22 938.8L488.51 937.36L488.8 935.92L489.1 934.48L489.4 933.04L489.72 931.61L490.04 930.19L490.37 928.76L490.71 927.34L491.06 925.92L491.43 924.51L491.81 923.1L492.2 921.69L492.61 920.29L493.02 918.89L493.45 917.5L493.89 916.11L494.34 914.73L494.8 913.35L495.27 911.98L495.74 910.6L496.23 909.24L496.72 907.87L497.22 906.5L497.73 905.14L498.25 903.77L498.77 902.41L499.3 901.04L499.83 899.68L500.37 898.31L500.92 896.94L501.46 895.56L501.99 894.26L502.52 892.95L503.06 891.64L503.6 890.34L504.16 889.03L504.71 887.73L505.28 886.42L505.84 885.11L506.42 883.81L507 882.5L507.59 881.19L508.18 879.89L508.77 878.58L509.38 877.28L509.99 875.97L510.6 874.66L511.22 873.36L511.84 872.05L512.47 870.74L513.1 869.44L513.74 868.13L514.38 866.82L515.04 865.51L515.69 864.19L516.36 862.88L517.02 861.56L517.7 860.25L518.38 858.93L519.06 857.62L519.75 856.3L520.44 854.99L521.14 853.68L521.85 852.37L522.55 851.06L523.26 849.76L523.98 848.46L524.7 847.17L525.42 845.88L526.15 844.59L526.88 843.31L527.61 842.04L528.34 840.76L529.08 839.49L529.82 838.21L530.56 836.94L531.31 835.67L532.06 834.4L532.82 833.14L533.58 831.88L534.34 830.62L535.11 829.37L535.89 828.12L536.67 826.88L537.46 825.64L538.25 824.42L539.05 823.19L539.85 821.98L540.67 820.77L541.49 819.57L542.31 818.38L543.14 817.18L543.96 815.97L544.78 814.75L545.59 813.53L546.4 812.3L547.22 811.07L548.04 809.85L548.87 808.63L549.7 807.43L550.55 806.23L551.41 805.06L552.29 803.9L553.18 802.77L554.1 801.67L555.03 800.6L555.99 799.56L556.98 798.56L558 797.6L559.04 796.68L560.13 795.81L561.3 794.95L562.5 794.12L563.74 793.33L565 792.58L566.29 791.87L567.6 791.19L568.94 790.54L570.3 789.92L571.68 789.33L573.07 788.77L574.49 788.23L575.92 787.72L577.37 787.22L578.82 786.75L580.29 786.3L581.77 785.87L583.26 785.45L584.75 785.04L586.25 784.65L587.62 784.32L589.02 784.01L590.43 783.74L591.87 783.49L593.33 783.26L594.8 783.06L596.28 782.87L597.77 782.71L599.28 782.55L600.78 782.42L602.3 782.29L603.81 782.17L605.32 782.05L606.83 781.94L608.34 781.83L609.84 781.72L611.32 781.61L612.8 781.49L614.26 781.37L615.7 781.23L617.13 781.09L618.57 780.93L619.93 780.76L621.23 780.59L622.48 780.43L623.69 780.26L624.88 780.09L626.05 779.92L627.22 779.76L628.39 779.6L629.6 779.44L630.83 779.29L632.12 779.14L633.46 779L634.88 778.86L636.39 778.73L637.99 778.61L639.7 778.5L641.54 778.4L643.51 778.32L645.63 778.24L646.75 778.2L647.91 778.17L649.1 778.15L650.34 778.12L651.61 778.1L652.92 778.09L654.25 778.07L655.62 778.06L657.02 778.05L658.44 778.05L659.89 778.04L661.36 778.04L662.85 778.04L664.36 778.05L665.89 778.05L667.44 778.06L669 778.06L670.57 778.07L672.16 778.08L673.76 778.09L675.36 778.1L676.97 778.11L678.58 778.12L680.2 778.14L681.81 778.15L683.43 778.16L685.04 778.17L686.65 778.18L688.26 778.19L689.85 778.2L691.44 778.21L693.01 778.22L694.57 778.23L696.12 778.24L697.65 778.24L699.17 778.24L700.66 778.25L702.13 778.25L703.58 778.24L705 778.24L706.58 778.23L708.2 778.22L709.83 778.21L711.49 778.2L713.17 778.19L714.87 778.18L716.58 778.17L718.3 778.15L720.03 778.14L721.76 778.13L723.5 778.11L725.23 778.1L726.96 778.08L728.68 778.07L730.39 778.05L732.09 778.03L733.77 778.02L735.43 778L737.07 777.98L738.68 777.97L740.26 777.95L741.81 777.93L743.33 777.92L744.81 777.9L746.24 777.89L747.63 777.87L748.98 777.86L750.27 777.85L751.51 777.83L752.69 777.82L753.82 777.81L754.88 777.8L755.88 777.79L756.8 777.78L757.66 777.77L758.44 777.76" stroke="#008000" stroke-width="7" stroke-dasharray="11.2 18" stroke-dashoffset="0"/>
<path d="M180.63 1072.81C181.25 1072.5 182.19 1070.94 184.38 1070.94C186.56 1070.94 190.63 1071.72 193.75 1072.81C196.88 1073.91 200.38 1075.94 203.13 1077.5C205.88 1079.06 208.38 1080 210.25 1082.19C212.13 1084.38 213.06 1086.72 214.38 1090.63C215.69 1094.53 216.88 1101.25 218.13 1105.63C219.38 1110 220.47 1114.06 221.88 1116.88C223.28 1119.69 224.84 1121.19 226.56 1122.5C228.28 1123.81 230.16 1124.91 232.19 1124.75C234.22 1124.59 236.41 1122.31 238.75 1121.56C241.09 1120.81 243.75 1120.25 246.25 1120.25C248.75 1120.25 251.25 1120.25 253.75 1121.56C256.25 1122.88 258.44 1125.78 261.25 1128.13C264.06 1130.47 266.88 1133.13 270.63 1135.63C274.38 1138.13 279.06 1140.47 283.75 1143.13C288.44 1145.78 293.75 1148.75 298.75 1151.56C303.75 1154.38 308.75 1157.34 313.75 1160C318.75 1162.66 323.75 1165.31 328.75 1167.5C333.75 1169.69 338.75 1171.41 343.75 1173.13C348.75 1174.84 354.69 1176.56 358.75 1177.81C362.81 1179.06 365.63 1179.84 368.13 1180.63C370.63 1181.41 371.88 1180.94 373.75 1182.5C375.63 1184.06 377.66 1187.19 379.38 1190C381.1 1192.81 382.66 1196.25 384.06 1199.38C385.47 1202.5 386.72 1205.63 387.81 1208.75C388.91 1211.88 389.78 1214.38 390.63 1218.13C391.47 1221.88 392.34 1228.88 392.88 1231.25C393.41 1233.62 393.68 1232.17 393.84 1232.35C394.94 1231.26 398.58 1228.71 400.4 1225.79C402.22 1222.88 403.07 1218.38 404.77 1214.86C406.47 1211.34 408.42 1207.33 410.6 1204.66C412.79 1201.99 414.97 1200.41 417.89 1198.83C420.8 1197.26 424.2 1196.41 428.09 1195.19C431.97 1193.98 436.59 1192.76 441.2 1191.55C445.82 1190.33 450.92 1189.12 455.77 1187.91C460.63 1186.69 465.97 1185.11 470.35 1184.26C474.72 1183.41 479.14 1183.17 482 1182.81C484.87 1182.44 486.62 1182.2 487.54 1182.08C487.88 1189.73 489.24 1220.33 489.58 1227.98C489.85 1227.98 490.92 1227.98 491.18 1227.98C491.48 1216.08 492.4 1178.19 492.93 1156.58C493.47 1134.96 493.86 1114.56 494.39 1098.29C494.92 1082.02 495.47 1077.1 496.14 1058.94C496.8 1040.79 497.33 1004.93 498.38 989.38C499.42 973.82 500.67 974.33 502.41 965.63C504.15 956.92 506.29 945.44 508.83 937.13C511.36 928.81 514.33 923.27 517.61 915.75C520.9 908.23 524.3 899.72 528.54 892C532.77 884.28 537.84 876.96 543.03 869.44C548.21 861.92 554.11 854.2 559.65 846.88C565.19 839.55 571.17 831.72 576.28 825.5C581.38 819.29 586.13 814.06 590.29 809.59C594.44 805.11 597.14 801.79 601.21 798.66C605.29 795.54 609.33 793.24 614.75 790.83C620.17 788.41 626.63 786 633.75 784.18C640.88 782.35 649.58 780.93 657.5 779.9C665.42 778.87 671.36 778.48 681.25 778C691.15 777.53 704.01 777.29 716.88 777.05C729.74 776.81 751.51 776.65 758.44 776.58" stroke="#0000a0" stroke-width="7.2" stroke-linejoin="miter" stroke-miterlimit="3"/>
</g>
<line x1="152.8" y1="1211.03" x2="157.8" y2="1211.03" stroke="#000" stroke-width="3"/>
<line x1="152.8" y1="1202.85" x2="157.8" y2="1202.85" stroke="#000" stroke-width="3"/>
<line x1="152.8" y1="1197.05" x2="157.8" y2="1197.05" stroke="#000" stroke-width="3"/>
<line x1="152.8" y1="1192.55" x2="157.8" y2="1192.55" stroke="#000" stroke-width="3"/>
<line x1="152.8" y1="1188.88" x2="157.8" y2="1188.88" stroke="#000" stroke-width="3"/>
<line x1="152.8" y1="1185.77" x2="157.8" y2="1185.77" stroke="#000" stroke-width="3"/>
<line x1="152.8" y1="1183.08" x2="157.8" y2="1183.08" stroke="#000" stroke-width="3"/>
<line x1="152.8" y1="1180.7" x2="157.8" y2="1180.7" stroke="#000" stroke-width="3"/>
<line x1="152.8" y1="1178.58" x2="162.8" y2="1178.58" stroke="#000" stroke-width="4"/>
<line x1="152.8" y1="1164.61" x2="157.8" y2="1164.61" stroke="#000" stroke-width="3"/>
<line x1="152.8" y1="1156.43" x2="157.8" y2="1156.43" stroke="#000" stroke-width="3"/>
<line x1="152.8" y1="1150.63" x2="157.8" y2="1150.63" stroke="#000" stroke-width="3"/>
<line x1="152.8" y1="1146.13" x2="157.8" y2="1146.13" stroke="#000" stroke-width="3"/>
<line x1="152.8" y1="1142.46" x2="157.8" y2="1142.46" stroke="#000" stroke-width="3"/>
<line x1="152.8" y1="1139.35" x2="157.8" y2="1139.35" stroke="#000" stroke-width="3"/>
<line x1="152.8" y1="1136.66" x2="157.8" y2="1136.66" stroke="#000" stroke-width="3"/>
<line x1="152.8" y1="1134.28" x2="157.8" y2="1134.28" stroke="#000" stroke-width="3"/>
<line x1="152.8" y1="1132.16" x2="162.8" y2="1132.16" stroke="#000" stroke-width="4"/>
<line x1="152.8" y1="1118.19" x2="157.8" y2="1118.19" stroke="#000" stroke-width="3"/>
<line x1="152.8" y1="1110.01" x2="157.8" y2="1110.01" stroke="#000" stroke-width="3"/>
<line x1="152.8" y1="1104.21" x2="157.8" y2="1104.21" stroke="#000" stroke-width="3"/>
<line x1="152.8" y1="1099.71" x2="157.8" y2="1099.71" stroke="#000" stroke-width="3"/>
<line x1="152.8" y1="1096.04" x2="157.8" y2="1096.04" stroke="#000" stroke-width="3"/>
<line x1="152.8" y1="1092.93" x2="157.8" y2="1092.93" stroke="#000" stroke-width="3"/>
<line x1="152.8" y1="1090.24" x2="157.8" y2="1090.24" stroke="#000" stroke-width="3"/>
<line x1="152.8" y1="1087.86" x2="157.8" y2="1087.86" stroke="#000" stroke-width="3"/>
<line x1="152.8" y1="1085.74" x2="162.8" y2="1085.74" stroke="#000" stroke-width="4"/>
<line x1="152.8" y1="1071.77" x2="157.8" y2="1071.77" stroke="#000" stroke-width="3"/>
<line x1="152.8" y1="1063.59" x2="157.8" y2="1063.59" stroke="#000" stroke-width="3"/>
<line x1="152.8" y1="1057.79" x2="157.8" y2="1057.79" stroke="#000" stroke-width="3"/>
<line x1="152.8" y1="1053.29" x2="157.8" y2="1053.29" stroke="#000" stroke-width="3"/>
<line x1="152.8" y1="1049.62" x2="157.8" y2="1049.62" stroke="#000" stroke-width="3"/>
<line x1="152.8" y1="1046.51" x2="157.8" y2="1046.51" stroke="#000" stroke-width="3"/>
<line x1="152.8" y1="1043.82" x2="157.8" y2="1043.82" stroke="#000" stroke-width="3"/>
<line x1="152.8" y1="1041.44" x2="157.8" y2="1041.44" stroke="#000" stroke-width="3"/>
<line x1="152.8" y1="1039.32" x2="162.8" y2="1039.32" stroke="#000" stroke-width="4"/>
<line x1="152.8" y1="1025.35" x2="157.8" y2="1025.35" stroke="#000" stroke-width="3"/>
<line x1="152.8" y1="1017.17" x2="157.8" y2="1017.17" stroke="#000" stroke-width="3"/>
<line x1="152.8" y1="1011.37" x2="157.8" y2="1011.37" stroke="#000" stroke-width="3"/>
<line x1="152.8" y1="1006.87" x2="157.8" y2="1006.87" stroke="#000" stroke-width="3"/>
<line x1="152.8" y1="1003.2" x2="157.8" y2="1003.2" stroke="#000" stroke-width="3"/>
<line x1="152.8" y1="1000.09" x2="157.8" y2="1000.09" stroke="#000" stroke-width="3"/>
<line x1="152.8" y1="997.4" x2="157.8" y2="997.4" stroke="#000" stroke-width="3"/>
<line x1="152.8" y1="995.02" x2="157.8" y2="995.02" stroke="#000" stroke-width="3"/>
<line x1="152.8" y1="992.9" x2="162.8" y2="992.9" stroke="#000" stroke-width="4"/>
<line x1="152.8" y1="978.93" x2="157.8" y2="978.93" stroke="#000" stroke-width="3"/>
<line x1="152.8" y1="970.75" x2="157.8" y2="970.75" stroke="#000" stroke-width="3"/>
<line x1="152.8" y1="964.95" x2="157.8" y2="964.95" stroke="#000" stroke-width="3"/>
<line x1="152.8" y1="960.45" x2="157.8" y2="960.45" stroke="#000" stroke-width="3"/>
<line x1="152.8" y1="956.78" x2="157.8" y2="956.78" stroke="#000" stroke-width="3"/>
<line x1="152.8" y1="953.67" x2="157.8" y2="953.67" stroke="#000" stroke-width="3"/>
<line x1="152.8" y1="950.98" x2="157.8" y2="950.98" stroke="#000" stroke-width="3"/>
<line x1="152.8" y1="948.6" x2="157.8" y2="948.6" stroke="#000" stroke-width="3"/>
<line x1="152.8" y1="946.48" x2="162.8" y2="946.48" stroke="#000" stroke-width="4"/>
<line x1="152.8" y1="932.51" x2="157.8" y2="932.51" stroke="#000" stroke-width="3"/>
<line x1="152.8" y1="924.33" x2="157.8" y2="924.33" stroke="#000" stroke-width="3"/>
<line x1="152.8" y1="918.53" x2="157.8" y2="918.53" stroke="#000" stroke-width="3"/>
<line x1="152.8" y1="914.03" x2="157.8" y2="914.03" stroke="#000" stroke-width="3"/>
<line x1="152.8" y1="910.36" x2="157.8" y2="910.36" stroke="#000" stroke-width="3"/>
<line x1="152.8" y1="907.25" x2="157.8" y2="907.25" stroke="#000" stroke-width="3"/>
<line x1="152.8" y1="904.56" x2="157.8" y2="904.56" stroke="#000" stroke-width="3"/>
<line x1="152.8" y1="902.18" x2="157.8" y2="902.18" stroke="#000" stroke-width="3"/>
<line x1="152.8" y1="900.06" x2="162.8" y2="900.06" stroke="#000" stroke-width="4"/>
<line x1="152.8" y1="886.09" x2="157.8" y2="886.09" stroke="#000" stroke-width="3"/>
<line x1="152.8" y1="877.91" x2="157.8" y2="877.91" stroke="#000" stroke-width="3"/>
<line x1="152.8" y1="872.11" x2="157.8" y2="872.11" stroke="#000" stroke-width="3"/>
<line x1="152.8" y1="867.61" x2="157.8" y2="867.61" stroke="#000" stroke-width="3"/>
<line x1="152.8" y1="863.94" x2="157.8" y2="863.94" stroke="#000" stroke-width="3"/>
<line x1="152.8" y1="860.83" x2="157.8" y2="860.83" stroke="#000" stroke-width="3"/>
<line x1="152.8" y1="858.14" x2="157.8" y2="858.14" stroke="#000" stroke-width="3"/>
<line x1="152.8" y1="855.76" x2="157.8" y2="855.76" stroke="#000" stroke-width="3"/>
<line x1="152.8" y1="853.64" x2="162.8" y2="853.64" stroke="#000" stroke-width="4"/>
<line x1="152.8" y1="839.67" x2="157.8" y2="839.67" stroke="#000" stroke-width="3"/>
<line x1="152.8" y1="831.49" x2="157.8" y2="831.49" stroke="#000" stroke-width="3"/>
<line x1="152.8" y1="825.69" x2="157.8" y2="825.69" stroke="#000" stroke-width="3"/>
<line x1="152.8" y1="821.19" x2="157.8" y2="821.19" stroke="#000" stroke-width="3"/>
<line x1="152.8" y1="817.52" x2="157.8" y2="817.52" stroke="#000" stroke-width="3"/>
<line x1="152.8" y1="814.41" x2="157.8" y2="814.41" stroke="#000" stroke-width="3"/>
<line x1="152.8" y1="811.72" x2="157.8" y2="811.72" stroke="#000" stroke-width="3"/>
<line x1="152.8" y1="809.34" x2="157.8" y2="809.34" stroke="#000" stroke-width="3"/>
<line x1="152.8" y1="807.22" x2="162.8" y2="807.22" stroke="#000" stroke-width="4"/>
<line x1="152.8" y1="793.25" x2="157.8" y2="793.25" stroke="#000" stroke-width="3"/>
<line x1="152.8" y1="785.07" x2="157.8" y2="785.07" stroke="#000" stroke-width="3"/>
<line x1="152.8" y1="779.27" x2="157.8" y2="779.27" stroke="#000" stroke-width="3"/>
<line x1="152.8" y1="774.77" x2="157.8" y2="774.77" stroke="#000" stroke-width="3"/>
<line x1="152.8" y1="771.1" x2="157.8" y2="771.1" stroke="#000" stroke-width="3"/>
<line x1="152.8" y1="767.99" x2="157.8" y2="767.99" stroke="#000" stroke-width="3"/>
<line x1="152.8" y1="765.3" x2="157.8" y2="765.3" stroke="#000" stroke-width="3"/>
<line x1="152.8" y1="762.92" x2="157.8" y2="762.92" stroke="#000" stroke-width="3"/>
<line x1="152.8" y1="760.8" x2="162.8" y2="760.8" stroke="#000" stroke-width="4"/>
<line x1="152.8" y1="746.83" x2="157.8" y2="746.83" stroke="#000" stroke-width="3"/>
<line x1="152.8" y1="738.65" x2="157.8" y2="738.65" stroke="#000" stroke-width="3"/>
<line x1="152.8" y1="732.85" x2="157.8" y2="732.85" stroke="#000" stroke-width="3"/>
<line x1="152.8" y1="728.35" x2="157.8" y2="728.35" stroke="#000" stroke-width="3"/>
<line x1="152.8" y1="724.68" x2="157.8" y2="724.68" stroke="#000" stroke-width="3"/>
<line x1="152.8" y1="721.57" x2="157.8" y2="721.57" stroke="#000" stroke-width="3"/>
<line x1="152.8" y1="718.88" x2="157.8" y2="718.88" stroke="#000" stroke-width="3"/>
<line x1="152.8" y1="716.5" x2="157.8" y2="716.5" stroke="#000" stroke-width="3"/>
<line x1="180.4" y1="1225" x2="180.4" y2="1214.8" stroke="#000" stroke-width="4"/>
<line x1="216.55" y1="1225" x2="216.55" y2="1220" stroke="#000" stroke-width="3.4"/>
<line x1="252.7" y1="1225" x2="252.7" y2="1220" stroke="#000" stroke-width="3.4"/>
<line x1="288.85" y1="1225" x2="288.85" y2="1220" stroke="#000" stroke-width="3.4"/>
<line x1="325" y1="1225" x2="325" y2="1214.8" stroke="#000" stroke-width="4"/>
<line x1="361.15" y1="1225" x2="361.15" y2="1220" stroke="#000" stroke-width="3.4"/>
<line x1="397.3" y1="1225" x2="397.3" y2="1220" stroke="#000" stroke-width="3.4"/>
<line x1="433.45" y1="1225" x2="433.45" y2="1220" stroke="#000" stroke-width="3.4"/>
<line x1="469.6" y1="1225" x2="469.6" y2="1214.8" stroke="#000" stroke-width="4"/>
<line x1="505.75" y1="1225" x2="505.75" y2="1220" stroke="#000" stroke-width="3.4"/>
<line x1="541.9" y1="1225" x2="541.9" y2="1220" stroke="#000" stroke-width="3.4"/>
<line x1="578.05" y1="1225" x2="578.05" y2="1220" stroke="#000" stroke-width="3.4"/>
<line x1="614.2" y1="1225" x2="614.2" y2="1214.8" stroke="#000" stroke-width="4"/>
<line x1="650.35" y1="1225" x2="650.35" y2="1220" stroke="#000" stroke-width="3.4"/>
<line x1="686.5" y1="1225" x2="686.5" y2="1220" stroke="#000" stroke-width="3.4"/>
<line x1="722.65" y1="1225" x2="722.65" y2="1220" stroke="#000" stroke-width="3.4"/>
<line x1="758.8" y1="1225" x2="758.8" y2="1214.8" stroke="#000" stroke-width="4"/>
<rect x="152.8" y="714.5" width="635.2" height="510.5" fill="none" stroke="#000" stroke-width="4.2"/>
<text transform="translate(140.3 774.8) scale(1 1.09)" font-size="36.3" text-anchor="end" font-weight="bold" fill="#000" stroke="#000" stroke-width="0.8" stroke-linejoin="round">10<tspan font-size="24" dy="-14" dx="1">-3</tspan></text>
<text transform="translate(140.3 867.64) scale(1 1.09)" font-size="36.3" text-anchor="end" font-weight="bold" fill="#000" stroke="#000" stroke-width="0.8" stroke-linejoin="round">10<tspan font-size="24" dy="-14" dx="1">-5</tspan></text>
<text transform="translate(140.3 960.48) scale(1 1.09)" font-size="36.3" text-anchor="end" font-weight="bold" fill="#000" stroke="#000" stroke-width="0.8" stroke-linejoin="round">10<tspan font-size="24" dy="-14" dx="1">-7</tspan></text>
<text transform="translate(140.3 1053.32) scale(1 1.09)" font-size="36.3" text-anchor="end" font-weight="bold" fill="#000" stroke="#000" stroke-width="0.8" stroke-linejoin="round">10<tspan font-size="24" dy="-14" dx="1">-9</tspan></text>
<text transform="translate(140.3 1146.16) scale(1 1.09)" font-size="36.3" text-anchor="end" font-weight="bold" fill="#000" stroke="#000" stroke-width="0.8" stroke-linejoin="round">10<tspan font-size="24" dy="-14" dx="1">-11</tspan></text>
<text transform="translate(140.3 1239) scale(1 1.09)" font-size="36.3" text-anchor="end" font-weight="bold" fill="#000" stroke="#000" stroke-width="0.8" stroke-linejoin="round">10<tspan font-size="24" dy="-14" dx="1">-13</tspan></text>
<text transform="translate(181.4 1266.2) scale(1 1.09)" font-size="36.3" text-anchor="middle" font-weight="bold" fill="#000" stroke="#000" stroke-width="0.8" stroke-linejoin="round">-20</text>
<text transform="translate(326 1266.2) scale(1 1.09)" font-size="36.3" text-anchor="middle" font-weight="bold" fill="#000" stroke="#000" stroke-width="0.8" stroke-linejoin="round">-10</text>
<text transform="translate(469.6 1266.2) scale(1 1.09)" font-size="36.3" text-anchor="middle" font-weight="bold" fill="#000" stroke="#000" stroke-width="0.8" stroke-linejoin="round">0</text>
<text transform="translate(614.2 1266.2) scale(1 1.09)" font-size="36.3" text-anchor="middle" font-weight="bold" fill="#000" stroke="#000" stroke-width="0.8" stroke-linejoin="round">10</text>
<text transform="translate(758.8 1266.2) scale(1 1.09)" font-size="36.3" text-anchor="middle" font-weight="bold" fill="#000" stroke="#000" stroke-width="0.8" stroke-linejoin="round">20</text>
<text x="470.4" y="1319.6" font-size="54" text-anchor="middle" font-weight="bold" fill="#000" stroke="#000" stroke-width="0.8" stroke-linejoin="round">Gate Voltage, <tspan font-style="italic">V</tspan><tspan font-style="italic" font-size="38.5" dy="13">gs</tspan><tspan dy="-13"> (V)</tspan></text>
<text transform="translate(40.4 963.3) rotate(-90)" font-size="53.5" text-anchor="middle" font-weight="bold" fill="#000" stroke="#000" stroke-width="0.8" stroke-linejoin="round">Drain Current, <tspan font-style="italic">I</tspan><tspan font-style="italic" font-size="38.5" dy="13">ds</tspan><tspan dy="-13"> (A)</tspan></text>
<text x="153.8" y="696.8" font-size="51.8" text-anchor="start" font-weight="bold" fill="#000" stroke="#000" stroke-width="0.8" stroke-linejoin="round">(c) PBS</text>
<text x="169.5" y="762.5" font-size="37" text-anchor="start" font-weight="bold" fill="#000" stroke="#000" stroke-width="0.8" stroke-linejoin="round" letter-spacing="0.29">After UV+115<tspan font-size="28" dy="-14.5">o</tspan><tspan dy="14.5">C (90min)</tspan></text>
<text x="169.5" y="799.6" font-size="30.8" text-anchor="start" font-weight="bold" fill="#000" stroke="#000" stroke-width="0.8" stroke-linejoin="round"><tspan font-style="italic">stress V</tspan><tspan font-style="italic" font-size="22" dy="8.5">g</tspan><tspan dy="-8.5"> = +10 V</tspan></text>
<text x="169.2" y="1202.3" font-size="30.8" text-anchor="start" font-weight="bold" fill="#000" stroke="#000" stroke-width="0.8" stroke-linejoin="round"><tspan font-style="italic">V</tspan><tspan font-style="italic" font-size="22" dy="8.5">ds</tspan><tspan dy="-8.5"> = 5.0 V</tspan></text>
<text x="191.5" y="956.3" font-size="45.5" text-anchor="start" font-weight="bold" fill="#000" stroke="#000" stroke-width="0.8" stroke-linejoin="round"><tspan font-family="'Liberation Serif','DejaVu Serif',serif" font-weight="normal" font-size="48.5" stroke-width="0.9">Δ</tspan><tspan dx="-1.5">V</tspan><tspan font-size="30" dy="7">th</tspan><tspan dy="-7"> = </tspan><tspan font-weight="normal" stroke-width="0.3">2.2 V</tspan></text>
<line x1="569" y1="984.4" x2="639.6" y2="984.4" stroke="#800000" stroke-width="6.9"/>
<text x="657.5" y="995.6" font-size="31" text-anchor="start" font-weight="bold" fill="#000" stroke="#000" stroke-width="0.8" stroke-linejoin="round">0 s</text>
<line x1="569" y1="1024.1" x2="639.6" y2="1024.1" stroke="#ff8000" stroke-width="6.9" stroke-dasharray="11.2 18"/>
<text x="657.5" y="1035.3" font-size="31" text-anchor="start" font-weight="bold" fill="#000" stroke="#000" stroke-width="0.8" stroke-linejoin="round">1 s</text>
<line x1="569" y1="1063.8" x2="639.6" y2="1063.8" stroke="#eec56c" stroke-width="6.9" stroke-dasharray="11.2 18"/>
<text x="657.5" y="1075" font-size="31" text-anchor="start" font-weight="bold" fill="#000" stroke="#000" stroke-width="0.8" stroke-linejoin="round">10 s</text>
<line x1="569" y1="1103.4" x2="639.6" y2="1103.4" stroke="#008000" stroke-width="6.9" stroke-dasharray="11.2 18"/>
<text x="657.5" y="1114.6" font-size="31" text-anchor="start" font-weight="bold" fill="#000" stroke="#000" stroke-width="0.8" stroke-linejoin="round">100 s</text>
<line x1="569" y1="1142.9" x2="639.6" y2="1142.9" stroke="#0000a0" stroke-width="6.9"/>
<text x="657.5" y="1154.1" font-size="31" text-anchor="start" font-weight="bold" fill="#000" stroke="#000" stroke-width="0.8" stroke-linejoin="round">1000 s</text>
<path d="M444.2 1027.7H493.2V1016.1L539.2 1038.4L493.2 1060.7V1049.1H444.2Z" fill="#ff0000"/>
</g>
<g>
<clipPath id="clipd"><rect x="961.2" y="715.4" width="634.1" height="509.3"/></clipPath>
<g clip-path="url(#clipd)" fill="none" stroke-linejoin="round">
<path d="M989.75 1079.31C990.1 1081.26 990.46 1087.67 991.87 1091C993.29 1094.33 994.71 1096.81 998.25 1099.29C1001.79 1101.77 1005.33 1103.82 1013.12 1105.87C1020.92 1107.93 1032.6 1109.91 1045 1111.61C1057.4 1113.31 1073.33 1114.52 1087.5 1116.07C1101.67 1117.63 1115.83 1119.3 1130 1120.96C1144.17 1122.63 1160.1 1124.5 1172.5 1126.06C1184.89 1127.62 1193.75 1128.72 1204.37 1130.31C1215 1131.91 1227.57 1134.21 1236.25 1135.62C1244.93 1137.04 1252.84 1138.35 1256.44 1138.81C1260.03 1139.27 1257.58 1138.46 1257.81 1138.39C1258.18 1133.59 1259.28 1121.83 1260.05 1109.55C1260.82 1097.27 1261.67 1079.66 1262.44 1064.72C1263.21 1049.78 1263.46 1037.03 1264.68 1019.89C1265.9 1002.75 1267.81 978.48 1269.78 961.88C1271.74 945.27 1274.05 932.04 1276.48 920.25C1278.91 908.46 1281.3 899.13 1284.34 891.11C1287.39 883.1 1290.51 877.7 1294.75 872.15C1298.99 866.6 1303.92 861.78 1309.78 857.81C1315.64 853.84 1322 851.11 1329.9 848.33C1337.8 845.56 1346.86 843.05 1357.19 841.16C1367.52 839.27 1378.39 838.2 1391.88 837C1405.37 835.81 1422.71 834.8 1438.13 833.99C1453.54 833.18 1468.96 832.68 1484.38 832.14C1499.79 831.6 1516.94 831.1 1530.63 830.76C1544.31 830.41 1560.5 830.18 1566.47 830.06" stroke="#800000" stroke-width="6.2"/>
<path d="M990.17 1087.09L990.37 1088.01L990.61 1089.26L990.9 1090.75L991.22 1092.39L991.59 1094.09L992 1095.75L992.45 1097.3L992.94 1098.63L993.54 1099.95L994.21 1101.19L994.92 1102.35L995.69 1103.43L996.5 1104.43L997.36 1105.34L998.25 1106.17L999.24 1106.98L1000.18 1107.88L1001.17 1108.13L1002.34 1108.77L1003.81 1109.21L1005.69 1109.35L1006.66 1110.19L1007.64 1110.37L1008.63 1110.48L1009.66 1110.6L1010.75 1111.57L1011.91 1111.61L1013.17 1112.14L1014.54 1112.61L1016.04 1112.84L1017.7 1113.36L1019.52 1113.33L1021.53 1114.01L1023.75 1114.12L1024.82 1114.67L1025.95 1114.8L1027.13 1114.38L1028.36 1114.59L1029.63 1114.84L1030.95 1115.59L1032.31 1115.38L1033.71 1115.71L1035.14 1115.65L1036.6 1116L1038.08 1116.1L1039.6 1116.27L1041.13 1116.64L1042.69 1116.84L1044.26 1117.27L1045.84 1117.3L1047.44 1117.68L1049.04 1117.82L1050.64 1118.12L1052.25 1118.07L1053.85 1117.87L1055.45 1118.59L1057.04 1118.86L1058.62 1119L1060.19 1118.93L1061.74 1119.22L1063.26 1119.01L1064.77 1119.66L1066.25 1119.64L1067.72 1119.59L1069.18 1119.59L1070.65 1120.35L1072.11 1120.62L1073.58 1120.1L1075.04 1120.8L1076.51 1120.66L1077.97 1120.62L1079.44 1120.89L1080.9 1121.41L1082.37 1121.64L1083.84 1121.16L1085.3 1121.75L1086.77 1121.47L1088.23 1122.13L1089.7 1121.99L1091.16 1122.56L1092.63 1122.78L1094.09 1122.57L1095.56 1123.1L1097.03 1122.72L1098.49 1122.7L1099.96 1123.24L1101.42 1122.96L1102.89 1123.24L1104.35 1123.55L1105.82 1123.86L1107.28 1123.67L1108.75 1123.74L1110.21 1124.52L1111.68 1124.25L1113.15 1124.9L1114.61 1125.01L1116.08 1124.76L1117.54 1124.98L1119.01 1125.18L1120.47 1125.42L1121.94 1125.54L1123.4 1125.66L1124.87 1125.86L1126.34 1126.26L1127.8 1126.08L1129.27 1126.18L1130.73 1126.55L1132.2 1126.34L1133.66 1126.54L1135.13 1127.21L1136.59 1127.02L1138.06 1127.19L1139.53 1126.94L1140.99 1127.41L1142.46 1127.69L1143.92 1127.43L1145.39 1128.04L1146.85 1128.22L1148.32 1127.95L1149.78 1128.54L1151.25 1128.59L1152.72 1128.92L1154.2 1128.84L1155.7 1129.28L1157.2 1129.47L1158.71 1129.1L1160.22 1129.3L1161.74 1129.95L1163.27 1130.34L1164.79 1129.98L1166.32 1130.31L1167.84 1130.59L1169.37 1130.56L1170.89 1130.77L1172.41 1130.91L1173.92 1131.14L1175.42 1131.49L1176.92 1131.45L1178.4 1131.69L1179.88 1132.17L1181.34 1131.79L1182.79 1132.38L1184.23 1132.69L1185.65 1132.55L1187.05 1132.67L1188.43 1133.29L1189.79 1133.05L1191.14 1133.19L1192.45 1133.56L1193.75 1133.95L1195.43 1133.74L1197.09 1134.15L1198.72 1134.41L1200.33 1135.05L1201.93 1135L1203.5 1135.58L1205.04 1135.31L1206.57 1135.7L1208.07 1136.2L1209.55 1136.63L1211.01 1136.56L1212.45 1136.65L1213.87 1136.82L1215.26 1137.39L1216.63 1137.38L1217.98 1138.09L1219.31 1138.36L1220.62 1138.1L1221.9 1138.41L1223.17 1139.03L1224.41 1139.13L1225.62 1139.47L1227.37 1139.43L1229.06 1139.57L1230.7 1139.99L1232.29 1140.66L1233.83 1140.55L1235.32 1140.89L1236.77 1141.21L1238.17 1141.47L1239.53 1141.72L1240.85 1142.35L1242.13 1142.01L1243.37 1142.11L1244.57 1143.04L1245.74 1143.19L1246.87 1143.46L1248.7 1143.33L1250.44 1143.97L1252.09 1144.17L1253.62 1143.82L1255.03 1144.39L1256.3 1144.34L1257.42 1144.47L1258.38 1144.58L1259.15 1144.67L1259.18 1143.89L1259.21 1143L1259.24 1142.03L1259.27 1140.96L1259.31 1139.81L1259.34 1138.59L1259.38 1137.29L1259.42 1135.92L1259.47 1134.5L1259.51 1133.02L1259.56 1131.49L1259.61 1129.91L1259.66 1128.3L1259.72 1126.65L1259.77 1124.98L1259.83 1123.28L1259.89 1121.56L1259.95 1119.84L1260.01 1118.1L1260.07 1116.37L1260.14 1114.65L1260.21 1112.93L1260.28 1111.23L1260.35 1109.55L1260.41 1108.21L1260.47 1106.84L1260.53 1105.46L1260.59 1104.06L1260.66 1102.64L1260.73 1101.21L1260.8 1099.76L1260.87 1098.29L1260.94 1096.82L1261.02 1095.33L1261.09 1093.83L1261.17 1092.32L1261.25 1090.8L1261.33 1089.27L1261.4 1087.74L1261.48 1086.2L1261.56 1084.66L1261.64 1083.12L1261.72 1081.57L1261.8 1080.02L1261.88 1078.47L1261.97 1076.93L1262.05 1075.38L1262.13 1073.84L1262.2 1072.3L1262.28 1070.77L1262.36 1069.25L1262.44 1067.73L1262.51 1066.22L1262.59 1064.72L1262.66 1063.21L1262.74 1061.66L1262.81 1060.09L1262.89 1058.49L1262.96 1056.86L1263.04 1055.22L1263.11 1053.57L1263.19 1051.9L1263.26 1050.23L1263.34 1048.55L1263.42 1046.87L1263.49 1045.2L1263.57 1043.53L1263.64 1041.88L1263.72 1040.24L1263.79 1038.61L1263.87 1037.01L1263.94 1035.44L1264.02 1033.89L1264.09 1032.38L1264.16 1030.91L1264.24 1029.47L1264.31 1028.08L1264.39 1026.74L1264.46 1025.45L1264.54 1024.21L1264.61 1023.03L1264.68 1021.92L1264.76 1020.87L1264.83 1019.89L1265.1 1017.07L1265.35 1015.43L1265.59 1014.57L1265.84 1014.1L1266.09 1013.61L1266.37 1012.72L1266.67 1011.02L1267 1008.13L1267.09 1007.15L1267.18 1006.09L1267.27 1004.96L1267.37 1003.76L1267.46 1002.5L1267.55 1001.17L1267.65 999.79L1267.75 998.35L1267.84 996.87L1267.94 995.35L1268.04 993.79L1268.14 992.2L1268.24 990.58L1268.35 988.93L1268.46 987.27L1268.56 985.59L1268.67 983.91L1268.78 982.21L1268.9 980.52L1269.01 978.83L1269.13 977.16L1269.25 975.49L1269.38 973.84L1269.5 972.22L1269.63 970.62L1269.76 969.06L1269.9 967.53L1270.04 966.04L1270.18 964.6L1270.32 963.21L1270.47 961.88L1270.66 960.2L1270.86 958.56L1271.06 956.94L1271.26 955.35L1271.46 953.78L1271.67 952.23L1271.88 950.7L1272.1 949.2L1272.32 947.72L1272.54 946.25L1272.77 944.81L1273 943.38L1273.24 941.96L1273.48 940.56L1273.73 939.18L1273.98 937.81L1274.24 936.45L1274.51 935.1L1274.78 933.76L1275.06 932.43L1275.35 931.11L1275.64 929.8L1275.94 928.49L1276.25 927.19L1276.63 925.64L1277.01 924.11L1277.41 922.61L1277.8 921.12L1278.21 919.65L1278.62 918.21L1279.05 916.78L1279.48 915.37L1279.92 913.97L1280.37 912.59L1280.83 911.22L1281.3 909.87L1281.78 908.53L1282.28 907.2L1282.78 905.89L1283.3 904.58L1283.83 903.28L1284.37 901.99L1284.93 900.71L1285.5 899.44L1286.14 898.03L1286.78 896.63L1287.41 895.25L1288.05 893.88L1288.7 892.52L1289.35 891.17L1290.03 889.84L1290.72 888.53L1291.43 887.23L1292.16 885.94L1292.93 884.67L1293.72 883.42L1294.55 882.19L1295.43 880.97L1296.34 879.78L1297.3 878.6L1298.31 877.45L1299.38 876.31L1300.33 875.35L1301.34 874.4L1302.38 873.46L1303.47 872.53L1304.58 871.61L1305.73 870.7L1306.91 869.8L1308.12 868.92L1309.35 868.05L1310.6 867.2L1311.86 866.36L1313.14 865.53L1314.43 864.73L1315.73 863.94L1317.04 863.17L1318.35 862.41L1319.65 861.68L1320.96 860.97L1322.25 860.28L1323.54 859.61L1324.81 858.97L1326.15 858.32L1327.48 857.7L1328.83 857.1L1330.18 856.53L1331.53 855.98L1332.9 855.45L1334.26 854.95L1335.64 854.46L1337.01 854L1338.4 853.55L1339.79 853.12L1341.19 852.7L1342.59 852.29L1344 851.9L1345.41 851.52L1346.83 851.14L1348.25 850.78L1349.68 850.42L1351.12 850.07L1352.56 849.72L1353.95 849.4L1355.35 849.09L1356.76 848.8L1358.18 848.52L1359.61 848.25L1361.05 847.99L1362.5 847.75L1363.95 847.52L1365.41 847.29L1366.87 847.08L1368.32 846.87L1369.78 846.67L1371.24 846.48L1372.69 846.29L1374.14 846.11L1375.58 845.94L1377.01 845.76L1378.43 845.59L1379.84 845.43L1381.24 845.26L1382.63 845.09L1384.14 844.92L1385.64 844.75L1387.14 844.59L1388.62 844.44L1390.09 844.3L1391.56 844.17L1393.02 844.04L1394.47 843.92L1395.92 843.81L1397.37 843.69L1398.81 843.59L1400.25 843.48L1401.69 843.38L1403.13 843.28L1404.57 843.18L1406.02 843.08L1407.47 842.98L1408.92 842.88L1410.38 842.78L1411.83 842.68L1413.29 842.58L1414.73 842.48L1416.18 842.39L1417.62 842.3L1419.06 842.21L1420.5 842.12L1421.94 842.04L1423.38 841.96L1424.83 841.87L1426.28 841.79L1427.73 841.71L1429.19 841.63L1430.66 841.55L1432.13 841.48L1433.62 841.4L1435.11 841.32L1436.61 841.24L1438.13 841.16L1439.51 841.09L1440.91 841.02L1442.32 840.95L1443.74 840.89L1445.17 840.82L1446.61 840.76L1448.06 840.69L1449.51 840.63L1450.97 840.56L1452.43 840.5L1453.89 840.44L1455.35 840.37L1456.8 840.31L1458.25 840.25L1459.7 840.18L1461.14 840.12L1462.57 840.05L1464 839.98L1465.41 839.92L1466.8 839.85L1468.19 839.78L1469.7 839.69L1471.2 839.61L1472.68 839.53L1474.14 839.44L1475.6 839.35L1477.04 839.27L1478.48 839.18L1479.92 839.09L1481.35 839L1482.78 838.91L1484.21 838.82L1485.64 838.73L1487.08 838.64L1488.53 838.56L1489.99 838.47L1491.45 838.39L1492.93 838.31L1494.43 838.23L1495.94 838.16L1497.32 838.09L1498.71 838.03L1500.11 837.97L1501.52 837.91L1502.94 837.85L1504.36 837.79L1505.79 837.74L1507.22 837.68L1508.66 837.63L1510.1 837.58L1511.55 837.52L1513 837.47L1514.45 837.42L1515.9 837.37L1517.34 837.32L1518.79 837.27L1520.24 837.21L1521.69 837.16L1523.13 837.11L1524.57 837.05L1526 837L1527.45 836.94L1528.95 836.89L1530.47 836.83L1532.02 836.77L1533.58 836.71L1535.16 836.65L1536.75 836.59L1538.34 836.53L1539.92 836.47L1541.48 836.41L1543.03 836.35L1544.56 836.29L1546.05 836.23L1547.5 836.18L1548.91 836.12L1550.26 836.07L1551.56 836.02L1552.8 835.97L1553.97 835.93L1555.06 835.88L1556.06 835.84L1558.67 835.74L1560.77 835.65L1562.45 835.57L1563.77 835.51L1564.83 835.46L1565.7 835.42L1566.47 835.38" stroke="#ff8000" stroke-width="6" stroke-dasharray="11.2 18" stroke-dashoffset="-6.46"/>
<path d="M990.17 1088.72L990.35 1089.54L990.55 1090.63L990.8 1091.93L991.07 1093.37L991.38 1094.9L991.73 1096.44L992.1 1097.93L992.5 1099.31L992.94 1100.5L993.54 1101.86L994.21 1103.13L994.92 1104.32L995.69 1105.43L996.5 1106.45L997.36 1107.39L998.25 1108.24L999.24 1109.07L1000.18 1109.79L1001.17 1110.14L1002.34 1111.2L1003.81 1110.77L1005.69 1112.17L1006.66 1111.9L1007.64 1112.06L1008.63 1112.34L1009.66 1112.85L1010.75 1113.67L1011.91 1113.36L1013.17 1114.08L1014.54 1114.47L1016.04 1114.54L1017.7 1115.06L1019.52 1114.92L1021.53 1115.27L1023.75 1115.78L1024.82 1116.42L1025.95 1116.34L1027.13 1116.39L1028.36 1116.84L1029.63 1116.88L1030.95 1116.91L1032.31 1117.58L1033.71 1117.67L1035.14 1117.4L1036.6 1117.91L1038.08 1118.05L1039.6 1118.58L1041.13 1118.62L1042.69 1118.37L1044.26 1119.25L1045.84 1118.58L1047.44 1119.06L1049.04 1119.59L1050.64 1119.17L1052.25 1119.69L1053.85 1119.43L1055.45 1120.24L1057.04 1120.52L1058.62 1120.51L1060.19 1120.99L1061.74 1120.6L1063.26 1121.16L1064.77 1121.23L1066.25 1121.38L1067.72 1121.42L1069.18 1121.97L1070.65 1122.24L1072.11 1121.93L1073.58 1122.28L1075.04 1121.84L1076.51 1122.63L1077.97 1122.74L1079.44 1123.24L1080.9 1123.22L1082.37 1122.84L1083.84 1123.09L1085.3 1123.52L1086.77 1123.03L1088.23 1123.62L1089.7 1123.48L1091.16 1123.57L1092.63 1123.67L1094.09 1124.52L1095.56 1124.03L1097.03 1124.3L1098.49 1124.59L1099.96 1125.22L1101.42 1124.58L1102.89 1125.1L1104.35 1125.35L1105.82 1125.84L1107.28 1125.92L1108.75 1126.12L1110.21 1125.69L1111.68 1125.97L1113.15 1126.07L1114.61 1126.74L1116.08 1126.97L1117.54 1126.31L1119.01 1126.48L1120.47 1126.68L1121.94 1126.83L1123.4 1127.23L1124.87 1127.48L1126.34 1127.3L1127.8 1127.19L1129.27 1127.75L1130.73 1127.85L1132.2 1128.2L1133.66 1128.73L1135.13 1128.62L1136.59 1128.59L1138.06 1128.85L1139.53 1129.06L1140.99 1128.59L1142.46 1129.59L1143.92 1129.62L1145.39 1129.87L1146.85 1129.96L1148.32 1129.71L1149.78 1129.88L1151.25 1129.75L1152.72 1130.44L1154.2 1130.03L1155.7 1130.21L1157.2 1130.52L1158.71 1130.64L1160.22 1130.99L1161.74 1130.87L1163.27 1130.99L1164.79 1131.31L1166.32 1131.44L1167.84 1131.88L1169.37 1131.71L1170.89 1132.74L1172.41 1132.66L1173.92 1132.37L1175.42 1132.65L1176.92 1132.92L1178.4 1133.12L1179.88 1133.06L1181.34 1133.97L1182.79 1134.29L1184.23 1133.95L1185.65 1134.15L1187.05 1133.93L1188.43 1134.13L1189.79 1134.56L1191.14 1134.66L1192.45 1135.41L1193.75 1134.93L1195.43 1135.04L1197.09 1136.22L1198.72 1136.05L1200.33 1135.92L1201.93 1136.58L1203.5 1136.33L1205.04 1137.09L1206.57 1137.81L1208.07 1137.96L1209.55 1138.06L1211.01 1137.89L1212.45 1138.26L1213.87 1138.33L1215.26 1139.19L1216.63 1139.21L1217.98 1139.71L1219.31 1139.51L1220.62 1139.65L1221.9 1140.48L1223.17 1140.89L1224.41 1140.98L1225.62 1141.16L1227.37 1141.49L1229.05 1141.72L1230.68 1141.52L1232.26 1142.11L1233.79 1142.25L1235.28 1142.21L1236.71 1142.5L1238.11 1143.02L1239.47 1143.26L1240.78 1143.95L1242.06 1144.46L1243.31 1144.17L1244.53 1144.88L1245.71 1145.13L1246.87 1145.28L1248.76 1144.96L1250.6 1145.05L1252.35 1145.24L1254.01 1145.37L1255.54 1145.51L1256.93 1145.92L1258.16 1146.01L1259.21 1146.09L1260.05 1146.16L1260.08 1145.38L1260.12 1144.5L1260.16 1143.52L1260.2 1142.46L1260.24 1141.32L1260.29 1140.09L1260.34 1138.8L1260.4 1137.44L1260.45 1136.02L1260.51 1134.55L1260.57 1133.03L1260.63 1131.46L1260.7 1129.85L1260.76 1128.21L1260.83 1126.55L1260.9 1124.86L1260.97 1123.15L1261.04 1121.43L1261.11 1119.71L1261.18 1117.99L1261.26 1116.27L1261.33 1114.56L1261.4 1112.87L1261.47 1111.2L1261.54 1109.55L1261.6 1108.18L1261.67 1106.8L1261.73 1105.4L1261.79 1103.99L1261.86 1102.55L1261.92 1101.11L1261.99 1099.65L1262.06 1098.19L1262.13 1096.71L1262.2 1095.22L1262.27 1093.72L1262.34 1092.21L1262.41 1090.7L1262.48 1089.18L1262.55 1087.65L1262.63 1086.12L1262.7 1084.58L1262.77 1083.05L1262.84 1081.51L1262.92 1079.97L1262.99 1078.43L1263.06 1076.89L1263.14 1075.35L1263.21 1073.82L1263.28 1072.29L1263.35 1070.76L1263.42 1069.24L1263.5 1067.73L1263.57 1066.22L1263.64 1064.72L1263.71 1063.21L1263.77 1061.66L1263.84 1060.09L1263.9 1058.49L1263.97 1056.86L1264.03 1055.22L1264.09 1053.57L1264.16 1051.9L1264.22 1050.23L1264.28 1048.55L1264.34 1046.87L1264.4 1045.2L1264.46 1043.53L1264.53 1041.88L1264.59 1040.24L1264.65 1038.61L1264.72 1037.01L1264.78 1035.44L1264.85 1033.89L1264.92 1032.38L1264.99 1030.91L1265.06 1029.47L1265.14 1028.08L1265.21 1026.74L1265.29 1025.45L1265.37 1024.21L1265.46 1023.03L1265.55 1021.92L1265.64 1020.87L1265.73 1019.89L1266.06 1017.32L1266.4 1015.71L1266.77 1014.79L1267.16 1014.28L1267.57 1013.9L1267.99 1013.38L1268.42 1012.42L1268.86 1010.77L1269.31 1008.13L1269.45 1007.15L1269.58 1006.1L1269.71 1004.97L1269.85 1003.78L1269.99 1002.52L1270.12 1001.21L1270.26 999.83L1270.4 998.41L1270.54 996.94L1270.69 995.43L1270.83 993.89L1270.97 992.31L1271.12 990.7L1271.27 989.06L1271.41 987.41L1271.56 985.74L1271.71 984.06L1271.86 982.38L1272.02 980.69L1272.17 979L1272.32 977.33L1272.48 975.66L1272.64 974.01L1272.79 972.37L1272.95 970.77L1273.11 969.19L1273.28 967.64L1273.44 966.13L1273.6 964.67L1273.77 963.25L1273.94 961.88L1274.15 960.21L1274.35 958.56L1274.56 956.92L1274.77 955.28L1274.98 953.66L1275.19 952.05L1275.41 950.45L1275.62 948.87L1275.84 947.3L1276.06 945.74L1276.28 944.21L1276.5 942.68L1276.72 941.18L1276.95 939.7L1277.18 938.23L1277.42 936.79L1277.66 935.37L1277.9 933.97L1278.15 932.59L1278.4 931.24L1278.65 929.91L1278.91 928.61L1279.17 927.34L1279.44 926.09L1279.72 924.88L1280.13 923.14L1280.53 921.48L1280.93 919.88L1281.34 918.33L1281.75 916.85L1282.17 915.41L1282.6 914.02L1283.04 912.67L1283.49 911.36L1283.95 910.09L1284.44 908.84L1284.94 907.62L1285.46 906.42L1286.01 905.24L1286.58 904.07L1287.18 902.91L1287.81 901.75L1288.55 900.47L1289.3 899.24L1290.07 898.07L1290.86 896.94L1291.67 895.84L1292.5 894.78L1293.37 893.74L1294.26 892.71L1295.19 891.71L1296.16 890.7L1297.17 889.7L1298.23 888.69L1299.33 887.67L1300.48 886.63L1301.69 885.56L1302.68 884.7L1303.72 883.83L1304.78 882.94L1305.89 882.04L1307.02 881.14L1308.19 880.23L1309.38 879.32L1310.59 878.41L1311.83 877.51L1313.09 876.62L1314.36 875.73L1315.64 874.86L1316.94 874.01L1318.24 873.17L1319.56 872.36L1320.87 871.57L1322.19 870.81L1323.5 870.07L1324.81 869.38L1326.13 868.71L1327.45 868.06L1328.79 867.45L1330.14 866.85L1331.5 866.27L1332.88 865.72L1334.26 865.18L1335.65 864.66L1337.05 864.16L1338.45 863.67L1339.87 863.19L1341.29 862.73L1342.72 862.27L1344.15 861.82L1345.6 861.38L1347.04 860.95L1348.49 860.52L1349.95 860.09L1351.41 859.66L1352.8 859.26L1354.21 858.87L1355.63 858.49L1357.06 858.11L1358.5 857.75L1359.95 857.39L1361.4 857.04L1362.86 856.7L1364.32 856.36L1365.79 856.04L1367.26 855.72L1368.72 855.41L1370.19 855.1L1371.65 854.81L1373.11 854.52L1374.57 854.24L1376.02 853.97L1377.46 853.7L1378.89 853.44L1380.31 853.19L1381.8 852.93L1383.27 852.69L1384.74 852.46L1386.19 852.24L1387.64 852.03L1389.08 851.83L1390.52 851.64L1391.96 851.46L1393.4 851.28L1394.84 851.11L1396.28 850.94L1397.72 850.78L1399.17 850.63L1400.63 850.47L1402.09 850.32L1403.56 850.17L1405.05 850.02L1406.55 849.87L1408.06 849.72L1409.45 849.58L1410.85 849.45L1412.26 849.33L1413.68 849.21L1415.11 849.09L1416.55 848.97L1418 848.86L1419.45 848.75L1420.91 848.65L1422.37 848.54L1423.82 848.44L1425.28 848.34L1426.74 848.24L1428.19 848.13L1429.64 848.03L1431.08 847.93L1432.51 847.83L1433.93 847.73L1435.34 847.62L1436.74 847.52L1438.13 847.41L1439.64 847.28L1441.13 847.16L1442.61 847.03L1444.08 846.9L1445.54 846.77L1446.98 846.64L1448.42 846.5L1449.85 846.37L1451.29 846.24L1452.72 846.11L1454.15 845.99L1455.58 845.86L1457.02 845.74L1458.47 845.62L1459.92 845.5L1461.39 845.39L1462.87 845.29L1464.36 845.19L1465.88 845.09L1467.26 845.01L1468.65 844.94L1470.05 844.87L1471.46 844.8L1472.87 844.74L1474.3 844.68L1475.73 844.62L1477.16 844.57L1478.6 844.52L1480.04 844.47L1481.49 844.42L1482.93 844.37L1484.38 844.33L1485.83 844.28L1487.28 844.23L1488.73 844.19L1490.18 844.14L1491.62 844.09L1493.07 844.04L1494.5 843.99L1495.94 843.94L1497.37 843.88L1498.81 843.83L1500.25 843.77L1501.7 843.72L1503.15 843.66L1504.6 843.61L1506.05 843.55L1507.5 843.5L1508.94 843.44L1510.39 843.39L1511.84 843.33L1513.28 843.28L1514.72 843.22L1516.15 843.17L1517.58 843.11L1519 843.06L1520.42 843L1521.83 842.95L1523.23 842.89L1524.62 842.84L1526 842.78L1527.54 842.72L1529.09 842.66L1530.67 842.59L1532.26 842.53L1533.85 842.46L1535.45 842.39L1537.04 842.33L1538.62 842.26L1540.19 842.19L1541.73 842.13L1543.25 842.06L1544.73 842L1546.18 841.94L1547.58 841.88L1548.94 841.82L1550.24 841.77L1551.48 841.72L1552.65 841.67L1553.75 841.63L1555.89 841.54L1557.83 841.47L1559.58 841.4L1561.13 841.35L1562.51 841.3L1563.73 841.26L1564.79 841.22L1565.7 841.19L1566.47 841.16" stroke="#eec56c" stroke-width="6" stroke-dasharray="11.2 18" stroke-dashoffset="-1.12"/>
<path d="M990.17 1091.17L990.35 1092.01L990.55 1093.13L990.8 1094.47L991.07 1095.96L991.38 1097.53L991.73 1099.12L992.1 1100.66L992.5 1102.08L992.94 1103.31L993.54 1104.71L994.21 1106.03L994.92 1107.27L995.69 1108.42L996.5 1109.48L997.36 1110.45L998.25 1111.34L999.24 1112.2L1000.18 1112.46L1001.17 1113.85L1002.34 1114.28L1003.81 1114.78L1005.69 1115.38L1006.66 1115.58L1007.64 1116.1L1008.63 1116.21L1009.66 1115.88L1010.75 1116.86L1011.91 1116.73L1013.17 1117.34L1014.54 1117.42L1016.04 1117.57L1017.7 1117.8L1019.52 1118.2L1021.53 1118.39L1023.75 1118.5L1024.82 1119.47L1025.95 1119.6L1027.13 1119.98L1028.36 1119.8L1029.63 1119.81L1030.95 1120.2L1032.31 1119.66L1033.71 1120.45L1035.14 1120.36L1036.6 1120.22L1038.08 1120.42L1039.6 1120.97L1041.13 1120.84L1042.69 1121.25L1044.26 1121.6L1045.84 1121.53L1047.44 1121.4L1049.04 1122L1050.64 1121.88L1052.25 1122.05L1053.85 1122.18L1055.45 1122.55L1057.04 1122.39L1058.62 1123.23L1060.19 1123.75L1061.74 1123.26L1063.26 1123.81L1064.77 1124.22L1066.25 1123.35L1067.72 1123.63L1069.18 1124.56L1070.65 1124.75L1072.11 1124.68L1073.58 1124.28L1075.04 1124.73L1076.51 1125.41L1077.97 1125.59L1079.44 1125.64L1080.9 1125.1L1082.37 1126L1083.84 1125.6L1085.3 1126.15L1086.77 1125.62L1088.23 1126.74L1089.7 1126.46L1091.16 1126.75L1092.63 1126.31L1094.09 1126.92L1095.56 1127.03L1097.03 1127.19L1098.49 1127.07L1099.96 1127.64L1101.42 1127.34L1102.89 1127.44L1104.35 1127.43L1105.82 1128.18L1107.28 1127.66L1108.75 1127.94L1110.21 1127.91L1111.68 1128.72L1113.15 1128.76L1114.61 1128.89L1116.08 1128.45L1117.54 1129.05L1119.01 1129.08L1120.47 1128.93L1121.94 1128.97L1123.4 1130.26L1124.87 1129.38L1126.34 1129.73L1127.8 1129.83L1129.27 1130.35L1130.73 1129.89L1132.2 1130.48L1133.66 1130.5L1135.13 1131.19L1136.59 1130.37L1138.06 1130.89L1139.53 1131.22L1140.99 1131.92L1142.46 1131.54L1143.92 1131.64L1145.39 1132.02L1146.85 1131.73L1148.32 1131.58L1149.78 1132.28L1151.25 1132.91L1152.72 1132.87L1154.2 1132.48L1155.7 1133.13L1157.2 1133.49L1158.71 1132.97L1160.22 1133.51L1161.74 1133.41L1163.27 1133.45L1164.79 1133.66L1166.32 1133.74L1167.84 1134.08L1169.37 1133.89L1170.89 1134.47L1172.41 1134.29L1173.92 1135.24L1175.42 1135.23L1176.92 1134.72L1178.4 1135.79L1179.88 1135.29L1181.34 1135.8L1182.79 1136.07L1184.23 1135.99L1185.65 1136.12L1187.05 1136.47L1188.43 1136.31L1189.79 1137.34L1191.14 1136.65L1192.45 1137.66L1193.75 1137.15L1195.43 1137.49L1197.09 1137.85L1198.72 1137.7L1200.33 1138.07L1201.93 1138.61L1203.5 1138.98L1205.04 1139.76L1206.57 1140.16L1208.07 1139.34L1209.55 1140.19L1211.01 1140L1212.45 1141.06L1213.87 1140.78L1215.26 1141.71L1216.63 1141.58L1217.98 1141.36L1219.31 1141.48L1220.62 1142.02L1221.9 1142.99L1223.17 1142.4L1224.41 1143.02L1225.62 1143.13L1227.36 1143.43L1229.04 1144.29L1230.67 1143.94L1232.24 1144.85L1233.75 1145.1L1235.23 1145.73L1236.65 1145.55L1238.04 1146.31L1239.39 1146.03L1240.7 1146.45L1241.99 1146.76L1243.24 1147.24L1244.47 1147.53L1245.68 1146.81L1246.87 1147.01L1248.64 1147.68L1250.4 1148.16L1252.11 1147.95L1253.75 1147.75L1255.31 1148.57L1256.77 1148.05L1258.1 1148.06L1259.27 1148.07L1260.28 1148.08L1261.1 1148.11L1261.13 1147.31L1261.16 1146.42L1261.2 1145.44L1261.24 1144.36L1261.28 1143.2L1261.32 1141.97L1261.37 1140.66L1261.42 1139.29L1261.47 1137.86L1261.53 1136.37L1261.58 1134.83L1261.64 1133.25L1261.7 1131.63L1261.76 1129.98L1261.83 1128.3L1261.89 1126.59L1261.96 1124.87L1262.03 1123.14L1262.09 1121.4L1262.16 1119.67L1262.23 1117.94L1262.3 1116.21L1262.38 1114.51L1262.45 1112.83L1262.52 1111.17L1262.59 1109.55L1262.65 1108.15L1262.72 1106.74L1262.78 1105.32L1262.85 1103.89L1262.92 1102.44L1262.99 1100.99L1263.06 1099.52L1263.13 1098.05L1263.2 1096.56L1263.28 1095.07L1263.35 1093.57L1263.43 1092.07L1263.5 1090.56L1263.58 1089.05L1263.65 1087.53L1263.73 1086.01L1263.81 1084.48L1263.89 1082.95L1263.97 1081.42L1264.05 1079.9L1264.12 1078.37L1264.2 1076.84L1264.28 1075.31L1264.36 1073.79L1264.44 1072.26L1264.52 1070.75L1264.6 1069.23L1264.68 1067.72L1264.75 1066.22L1264.83 1064.72L1264.91 1063.21L1264.98 1061.66L1265.06 1060.09L1265.13 1058.49L1265.2 1056.86L1265.27 1055.22L1265.34 1053.57L1265.41 1051.9L1265.47 1050.23L1265.54 1048.55L1265.61 1046.87L1265.68 1045.2L1265.75 1043.53L1265.82 1041.88L1265.89 1040.24L1265.96 1038.61L1266.04 1037.01L1266.11 1035.44L1266.19 1033.89L1266.27 1032.38L1266.35 1030.91L1266.44 1029.47L1266.52 1028.08L1266.61 1026.74L1266.71 1025.45L1266.8 1024.21L1266.9 1023.03L1267 1021.92L1267.11 1020.87L1267.22 1019.89L1267.62 1017.32L1268.06 1015.71L1268.53 1014.79L1269.03 1014.28L1269.54 1013.9L1270.07 1013.38L1270.59 1012.42L1271.12 1010.77L1271.63 1008.13L1271.77 1007.15L1271.91 1006.09L1272.05 1004.95L1272.19 1003.75L1272.32 1002.47L1272.45 1001.14L1272.59 999.74L1272.72 998.3L1272.85 996.81L1272.98 995.27L1273.11 993.7L1273.24 992.09L1273.37 990.46L1273.5 988.81L1273.64 987.13L1273.78 985.44L1273.91 983.75L1274.05 982.05L1274.2 980.35L1274.34 978.66L1274.49 976.98L1274.65 975.32L1274.8 973.68L1274.97 972.06L1275.13 970.48L1275.31 968.92L1275.48 967.41L1275.66 965.95L1275.85 964.54L1276.05 963.18L1276.25 961.88L1276.53 960.18L1276.82 958.52L1277.13 956.88L1277.44 955.28L1277.76 953.7L1278.09 952.15L1278.42 950.63L1278.76 949.13L1279.11 947.66L1279.47 946.22L1279.83 944.8L1280.19 943.4L1280.56 942.03L1280.93 940.68L1281.31 939.36L1281.68 938.06L1282.06 936.77L1282.44 935.51L1282.82 934.27L1283.21 933.05L1283.59 931.85L1283.97 930.67L1284.34 929.5L1284.88 927.88L1285.41 926.32L1285.92 924.83L1286.44 923.4L1286.96 922.03L1287.47 920.7L1288 919.41L1288.54 918.15L1289.08 916.93L1289.65 915.73L1290.24 914.55L1290.85 913.38L1291.49 912.21L1292.15 911.04L1292.86 909.87L1293.59 908.69L1294.36 907.51L1295.13 906.34L1295.92 905.2L1296.73 904.06L1297.55 902.95L1298.4 901.85L1299.27 900.76L1300.17 899.68L1301.1 898.62L1302.06 897.56L1303.05 896.51L1304.08 895.47L1305.15 894.43L1306.26 893.4L1307.42 892.37L1308.63 891.34L1309.63 890.52L1310.66 889.69L1311.73 888.87L1312.83 888.04L1313.96 887.21L1315.12 886.39L1316.3 885.56L1317.51 884.75L1318.73 883.94L1319.97 883.13L1321.23 882.34L1322.5 881.56L1323.78 880.79L1325.08 880.03L1326.38 879.29L1327.68 878.56L1328.99 877.86L1330.3 877.17L1331.6 876.5L1332.91 875.85L1334.22 875.22L1335.54 874.61L1336.88 874.02L1338.23 873.45L1339.6 872.89L1340.98 872.34L1342.36 871.81L1343.76 871.3L1345.16 870.79L1346.57 870.3L1347.98 869.82L1349.39 869.35L1350.81 868.89L1352.22 868.44L1353.64 868L1355.05 867.57L1356.46 867.14L1357.87 866.73L1359.27 866.31L1360.66 865.91L1362.12 865.49L1363.57 865.08L1365.03 864.69L1366.48 864.31L1367.93 863.95L1369.38 863.59L1370.83 863.25L1372.28 862.91L1373.73 862.58L1375.19 862.27L1376.64 861.96L1378.1 861.65L1379.56 861.35L1381.02 861.06L1382.49 860.78L1383.96 860.49L1385.44 860.21L1386.92 859.94L1388.41 859.66L1389.83 859.41L1391.25 859.15L1392.68 858.9L1394.11 858.66L1395.55 858.42L1396.99 858.19L1398.44 857.96L1399.89 857.74L1401.34 857.52L1402.79 857.31L1404.24 857.1L1405.7 856.9L1407.15 856.7L1408.61 856.51L1410.06 856.33L1411.51 856.15L1412.97 855.98L1414.42 855.81L1415.87 855.65L1417.31 855.5L1418.76 855.36L1420.2 855.22L1421.65 855.1L1423.09 854.99L1424.54 854.89L1425.99 854.79L1427.43 854.7L1428.88 854.62L1430.32 854.54L1431.77 854.46L1433.21 854.39L1434.66 854.31L1436.1 854.24L1437.55 854.17L1438.99 854.09L1440.44 854.01L1441.88 853.93L1443.33 853.84L1444.77 853.75L1446.22 853.65L1447.67 853.54L1449.11 853.43L1450.56 853.32L1452 853.21L1453.45 853.09L1454.89 852.97L1456.34 852.85L1457.78 852.73L1459.23 852.6L1460.67 852.48L1462.12 852.36L1463.56 852.24L1465.01 852.11L1466.45 852L1467.9 851.88L1469.35 851.76L1470.79 851.65L1472.24 851.54L1473.68 851.44L1475.13 851.34L1476.57 851.24L1478.02 851.15L1479.46 851.05L1480.91 850.96L1482.35 850.87L1483.8 850.79L1485.24 850.7L1486.69 850.62L1488.13 850.54L1489.58 850.46L1491.02 850.38L1492.47 850.3L1493.92 850.22L1495.36 850.15L1496.81 850.07L1498.25 850L1499.7 849.93L1501.14 849.86L1502.59 849.79L1504.03 849.72L1505.48 849.65L1506.92 849.58L1508.37 849.52L1509.81 849.45L1511.26 849.39L1512.7 849.32L1514.15 849.26L1515.6 849.2L1517.04 849.14L1518.49 849.08L1519.93 849.03L1521.38 848.97L1522.82 848.91L1524.27 848.86L1525.71 848.81L1527.16 848.76L1528.6 848.71L1530.05 848.66L1531.49 848.61L1532.94 848.56L1534.41 848.52L1535.94 848.47L1537.51 848.43L1539.11 848.39L1540.73 848.35L1542.38 848.31L1544.02 848.27L1545.67 848.23L1547.3 848.19L1548.91 848.16L1550.49 848.12L1552.03 848.09L1553.52 848.06L1554.96 848.03L1556.33 848L1557.62 847.97L1558.83 847.94L1559.94 847.92L1560.95 847.89L1561.85 847.87L1564.82 847.77L1565.96 847.71L1566.21 847.67L1566.47 847.64" stroke="#008000" stroke-width="6" stroke-dasharray="11.2 18" stroke-dashoffset="-5.97"/>
<path d="M989.75 1079.31C989.82 1081.97 989.64 1090.47 990.17 1095.25C990.71 1100.03 991.59 1104.46 992.94 1108C994.28 1111.54 996.12 1114.45 998.25 1116.5C1000.37 1118.55 1001.44 1119.12 1005.69 1120.32C1009.94 1121.53 1013.66 1122.41 1023.75 1123.72C1033.84 1125.04 1052.08 1126.74 1066.25 1128.19C1080.42 1129.64 1094.58 1131.09 1108.75 1132.44C1122.92 1133.78 1137.08 1134.81 1151.25 1136.26C1165.42 1137.71 1181.35 1139.31 1193.75 1141.15C1206.14 1142.99 1216.77 1145.54 1225.62 1147.31C1234.48 1149.08 1240.68 1150.61 1246.87 1151.77C1253.07 1152.94 1259.82 1153.89 1262.81 1154.32C1265.8 1154.76 1264.49 1154.37 1264.83 1154.38C1265.33 1146.91 1266.95 1124.49 1267.82 1109.55C1268.69 1094.61 1269.27 1077.17 1270.06 1064.72C1270.86 1052.27 1271.46 1045.42 1272.6 1034.83C1273.75 1024.24 1274.72 1011.81 1276.94 1001.19C1279.17 990.57 1282.42 980.76 1285.96 971.13C1289.51 961.49 1293.59 951.47 1298.22 943.38C1302.84 935.28 1308.51 928.31 1313.71 922.56C1318.92 916.82 1323.66 913.39 1329.44 908.92C1335.22 904.45 1341.08 899.75 1348.4 895.74C1355.72 891.73 1364.59 887.99 1373.38 884.87C1382.16 881.75 1390.33 879.2 1401.13 877.01C1411.92 874.81 1424.25 873.23 1438.13 871.69C1452 870.15 1468.96 868.84 1484.38 867.76C1499.79 866.68 1516.94 865.95 1530.63 865.21C1544.31 864.48 1560.5 863.67 1566.47 863.36" stroke="#0000a0" stroke-width="6.2" stroke-linejoin="miter" stroke-miterlimit="3"/>
</g>
<line x1="961.2" y1="1210.73" x2="966.2" y2="1210.73" stroke="#000" stroke-width="3"/>
<line x1="961.2" y1="1202.55" x2="966.2" y2="1202.55" stroke="#000" stroke-width="3"/>
<line x1="961.2" y1="1196.75" x2="966.2" y2="1196.75" stroke="#000" stroke-width="3"/>
<line x1="961.2" y1="1192.25" x2="966.2" y2="1192.25" stroke="#000" stroke-width="3"/>
<line x1="961.2" y1="1188.58" x2="966.2" y2="1188.58" stroke="#000" stroke-width="3"/>
<line x1="961.2" y1="1185.47" x2="966.2" y2="1185.47" stroke="#000" stroke-width="3"/>
<line x1="961.2" y1="1182.78" x2="966.2" y2="1182.78" stroke="#000" stroke-width="3"/>
<line x1="961.2" y1="1180.4" x2="966.2" y2="1180.4" stroke="#000" stroke-width="3"/>
<line x1="961.2" y1="1178.28" x2="971.2" y2="1178.28" stroke="#000" stroke-width="4"/>
<line x1="961.2" y1="1164.31" x2="966.2" y2="1164.31" stroke="#000" stroke-width="3"/>
<line x1="961.2" y1="1156.13" x2="966.2" y2="1156.13" stroke="#000" stroke-width="3"/>
<line x1="961.2" y1="1150.33" x2="966.2" y2="1150.33" stroke="#000" stroke-width="3"/>
<line x1="961.2" y1="1145.83" x2="966.2" y2="1145.83" stroke="#000" stroke-width="3"/>
<line x1="961.2" y1="1142.16" x2="966.2" y2="1142.16" stroke="#000" stroke-width="3"/>
<line x1="961.2" y1="1139.05" x2="966.2" y2="1139.05" stroke="#000" stroke-width="3"/>
<line x1="961.2" y1="1136.36" x2="966.2" y2="1136.36" stroke="#000" stroke-width="3"/>
<line x1="961.2" y1="1133.98" x2="966.2" y2="1133.98" stroke="#000" stroke-width="3"/>
<line x1="961.2" y1="1131.86" x2="971.2" y2="1131.86" stroke="#000" stroke-width="4"/>
<line x1="961.2" y1="1117.89" x2="966.2" y2="1117.89" stroke="#000" stroke-width="3"/>
<line x1="961.2" y1="1109.71" x2="966.2" y2="1109.71" stroke="#000" stroke-width="3"/>
<line x1="961.2" y1="1103.91" x2="966.2" y2="1103.91" stroke="#000" stroke-width="3"/>
<line x1="961.2" y1="1099.41" x2="966.2" y2="1099.41" stroke="#000" stroke-width="3"/>
<line x1="961.2" y1="1095.74" x2="966.2" y2="1095.74" stroke="#000" stroke-width="3"/>
<line x1="961.2" y1="1092.63" x2="966.2" y2="1092.63" stroke="#000" stroke-width="3"/>
<line x1="961.2" y1="1089.94" x2="966.2" y2="1089.94" stroke="#000" stroke-width="3"/>
<line x1="961.2" y1="1087.56" x2="966.2" y2="1087.56" stroke="#000" stroke-width="3"/>
<line x1="961.2" y1="1085.44" x2="971.2" y2="1085.44" stroke="#000" stroke-width="4"/>
<line x1="961.2" y1="1071.47" x2="966.2" y2="1071.47" stroke="#000" stroke-width="3"/>
<line x1="961.2" y1="1063.29" x2="966.2" y2="1063.29" stroke="#000" stroke-width="3"/>
<line x1="961.2" y1="1057.49" x2="966.2" y2="1057.49" stroke="#000" stroke-width="3"/>
<line x1="961.2" y1="1052.99" x2="966.2" y2="1052.99" stroke="#000" stroke-width="3"/>
<line x1="961.2" y1="1049.32" x2="966.2" y2="1049.32" stroke="#000" stroke-width="3"/>
<line x1="961.2" y1="1046.21" x2="966.2" y2="1046.21" stroke="#000" stroke-width="3"/>
<line x1="961.2" y1="1043.52" x2="966.2" y2="1043.52" stroke="#000" stroke-width="3"/>
<line x1="961.2" y1="1041.14" x2="966.2" y2="1041.14" stroke="#000" stroke-width="3"/>
<line x1="961.2" y1="1039.02" x2="971.2" y2="1039.02" stroke="#000" stroke-width="4"/>
<line x1="961.2" y1="1025.05" x2="966.2" y2="1025.05" stroke="#000" stroke-width="3"/>
<line x1="961.2" y1="1016.87" x2="966.2" y2="1016.87" stroke="#000" stroke-width="3"/>
<line x1="961.2" y1="1011.07" x2="966.2" y2="1011.07" stroke="#000" stroke-width="3"/>
<line x1="961.2" y1="1006.57" x2="966.2" y2="1006.57" stroke="#000" stroke-width="3"/>
<line x1="961.2" y1="1002.9" x2="966.2" y2="1002.9" stroke="#000" stroke-width="3"/>
<line x1="961.2" y1="999.79" x2="966.2" y2="999.79" stroke="#000" stroke-width="3"/>
<line x1="961.2" y1="997.1" x2="966.2" y2="997.1" stroke="#000" stroke-width="3"/>
<line x1="961.2" y1="994.72" x2="966.2" y2="994.72" stroke="#000" stroke-width="3"/>
<line x1="961.2" y1="992.6" x2="971.2" y2="992.6" stroke="#000" stroke-width="4"/>
<line x1="961.2" y1="978.63" x2="966.2" y2="978.63" stroke="#000" stroke-width="3"/>
<line x1="961.2" y1="970.45" x2="966.2" y2="970.45" stroke="#000" stroke-width="3"/>
<line x1="961.2" y1="964.65" x2="966.2" y2="964.65" stroke="#000" stroke-width="3"/>
<line x1="961.2" y1="960.15" x2="966.2" y2="960.15" stroke="#000" stroke-width="3"/>
<line x1="961.2" y1="956.48" x2="966.2" y2="956.48" stroke="#000" stroke-width="3"/>
<line x1="961.2" y1="953.37" x2="966.2" y2="953.37" stroke="#000" stroke-width="3"/>
<line x1="961.2" y1="950.68" x2="966.2" y2="950.68" stroke="#000" stroke-width="3"/>
<line x1="961.2" y1="948.3" x2="966.2" y2="948.3" stroke="#000" stroke-width="3"/>
<line x1="961.2" y1="946.18" x2="971.2" y2="946.18" stroke="#000" stroke-width="4"/>
<line x1="961.2" y1="932.21" x2="966.2" y2="932.21" stroke="#000" stroke-width="3"/>
<line x1="961.2" y1="924.03" x2="966.2" y2="924.03" stroke="#000" stroke-width="3"/>
<line x1="961.2" y1="918.23" x2="966.2" y2="918.23" stroke="#000" stroke-width="3"/>
<line x1="961.2" y1="913.73" x2="966.2" y2="913.73" stroke="#000" stroke-width="3"/>
<line x1="961.2" y1="910.06" x2="966.2" y2="910.06" stroke="#000" stroke-width="3"/>
<line x1="961.2" y1="906.95" x2="966.2" y2="906.95" stroke="#000" stroke-width="3"/>
<line x1="961.2" y1="904.26" x2="966.2" y2="904.26" stroke="#000" stroke-width="3"/>
<line x1="961.2" y1="901.88" x2="966.2" y2="901.88" stroke="#000" stroke-width="3"/>
<line x1="961.2" y1="899.76" x2="971.2" y2="899.76" stroke="#000" stroke-width="4"/>
<line x1="961.2" y1="885.79" x2="966.2" y2="885.79" stroke="#000" stroke-width="3"/>
<line x1="961.2" y1="877.61" x2="966.2" y2="877.61" stroke="#000" stroke-width="3"/>
<line x1="961.2" y1="871.81" x2="966.2" y2="871.81" stroke="#000" stroke-width="3"/>
<line x1="961.2" y1="867.31" x2="966.2" y2="867.31" stroke="#000" stroke-width="3"/>
<line x1="961.2" y1="863.64" x2="966.2" y2="863.64" stroke="#000" stroke-width="3"/>
<line x1="961.2" y1="860.53" x2="966.2" y2="860.53" stroke="#000" stroke-width="3"/>
<line x1="961.2" y1="857.84" x2="966.2" y2="857.84" stroke="#000" stroke-width="3"/>
<line x1="961.2" y1="855.46" x2="966.2" y2="855.46" stroke="#000" stroke-width="3"/>
<line x1="961.2" y1="853.34" x2="971.2" y2="853.34" stroke="#000" stroke-width="4"/>
<line x1="961.2" y1="839.37" x2="966.2" y2="839.37" stroke="#000" stroke-width="3"/>
<line x1="961.2" y1="831.19" x2="966.2" y2="831.19" stroke="#000" stroke-width="3"/>
<line x1="961.2" y1="825.39" x2="966.2" y2="825.39" stroke="#000" stroke-width="3"/>
<line x1="961.2" y1="820.89" x2="966.2" y2="820.89" stroke="#000" stroke-width="3"/>
<line x1="961.2" y1="817.22" x2="966.2" y2="817.22" stroke="#000" stroke-width="3"/>
<line x1="961.2" y1="814.11" x2="966.2" y2="814.11" stroke="#000" stroke-width="3"/>
<line x1="961.2" y1="811.42" x2="966.2" y2="811.42" stroke="#000" stroke-width="3"/>
<line x1="961.2" y1="809.04" x2="966.2" y2="809.04" stroke="#000" stroke-width="3"/>
<line x1="961.2" y1="806.92" x2="971.2" y2="806.92" stroke="#000" stroke-width="4"/>
<line x1="961.2" y1="792.95" x2="966.2" y2="792.95" stroke="#000" stroke-width="3"/>
<line x1="961.2" y1="784.77" x2="966.2" y2="784.77" stroke="#000" stroke-width="3"/>
<line x1="961.2" y1="778.97" x2="966.2" y2="778.97" stroke="#000" stroke-width="3"/>
<line x1="961.2" y1="774.47" x2="966.2" y2="774.47" stroke="#000" stroke-width="3"/>
<line x1="961.2" y1="770.8" x2="966.2" y2="770.8" stroke="#000" stroke-width="3"/>
<line x1="961.2" y1="767.69" x2="966.2" y2="767.69" stroke="#000" stroke-width="3"/>
<line x1="961.2" y1="765" x2="966.2" y2="765" stroke="#000" stroke-width="3"/>
<line x1="961.2" y1="762.62" x2="966.2" y2="762.62" stroke="#000" stroke-width="3"/>
<line x1="961.2" y1="760.5" x2="971.2" y2="760.5" stroke="#000" stroke-width="4"/>
<line x1="961.2" y1="746.53" x2="966.2" y2="746.53" stroke="#000" stroke-width="3"/>
<line x1="961.2" y1="738.35" x2="966.2" y2="738.35" stroke="#000" stroke-width="3"/>
<line x1="961.2" y1="732.55" x2="966.2" y2="732.55" stroke="#000" stroke-width="3"/>
<line x1="961.2" y1="728.05" x2="966.2" y2="728.05" stroke="#000" stroke-width="3"/>
<line x1="961.2" y1="724.38" x2="966.2" y2="724.38" stroke="#000" stroke-width="3"/>
<line x1="961.2" y1="721.27" x2="966.2" y2="721.27" stroke="#000" stroke-width="3"/>
<line x1="961.2" y1="718.58" x2="966.2" y2="718.58" stroke="#000" stroke-width="3"/>
<line x1="961.2" y1="716.2" x2="966.2" y2="716.2" stroke="#000" stroke-width="3"/>
<line x1="989.9" y1="1224.7" x2="989.9" y2="1214.5" stroke="#000" stroke-width="4"/>
<line x1="1025.95" y1="1224.7" x2="1025.95" y2="1219.7" stroke="#000" stroke-width="3.4"/>
<line x1="1062" y1="1224.7" x2="1062" y2="1219.7" stroke="#000" stroke-width="3.4"/>
<line x1="1098.05" y1="1224.7" x2="1098.05" y2="1219.7" stroke="#000" stroke-width="3.4"/>
<line x1="1134.1" y1="1224.7" x2="1134.1" y2="1214.5" stroke="#000" stroke-width="4"/>
<line x1="1170.15" y1="1224.7" x2="1170.15" y2="1219.7" stroke="#000" stroke-width="3.4"/>
<line x1="1206.2" y1="1224.7" x2="1206.2" y2="1219.7" stroke="#000" stroke-width="3.4"/>
<line x1="1242.25" y1="1224.7" x2="1242.25" y2="1219.7" stroke="#000" stroke-width="3.4"/>
<line x1="1278.3" y1="1224.7" x2="1278.3" y2="1214.5" stroke="#000" stroke-width="4"/>
<line x1="1314.35" y1="1224.7" x2="1314.35" y2="1219.7" stroke="#000" stroke-width="3.4"/>
<line x1="1350.4" y1="1224.7" x2="1350.4" y2="1219.7" stroke="#000" stroke-width="3.4"/>
<line x1="1386.45" y1="1224.7" x2="1386.45" y2="1219.7" stroke="#000" stroke-width="3.4"/>
<line x1="1422.5" y1="1224.7" x2="1422.5" y2="1214.5" stroke="#000" stroke-width="4"/>
<line x1="1458.55" y1="1224.7" x2="1458.55" y2="1219.7" stroke="#000" stroke-width="3.4"/>
<line x1="1494.6" y1="1224.7" x2="1494.6" y2="1219.7" stroke="#000" stroke-width="3.4"/>
<line x1="1530.65" y1="1224.7" x2="1530.65" y2="1219.7" stroke="#000" stroke-width="3.4"/>
<line x1="1566.7" y1="1224.7" x2="1566.7" y2="1214.5" stroke="#000" stroke-width="4"/>
<rect x="961.2" y="715.4" width="634.1" height="509.3" fill="none" stroke="#000" stroke-width="4.2"/>
<text transform="translate(948.7 774.5) scale(1 1.09)" font-size="36.3" text-anchor="end" font-weight="bold" fill="#000" stroke="#000" stroke-width="0.8" stroke-linejoin="round">10<tspan font-size="24" dy="-14" dx="1">-3</tspan></text>
<text transform="translate(948.7 867.34) scale(1 1.09)" font-size="36.3" text-anchor="end" font-weight="bold" fill="#000" stroke="#000" stroke-width="0.8" stroke-linejoin="round">10<tspan font-size="24" dy="-14" dx="1">-5</tspan></text>
<text transform="translate(948.7 960.18) scale(1 1.09)" font-size="36.3" text-anchor="end" font-weight="bold" fill="#000" stroke="#000" stroke-width="0.8" stroke-linejoin="round">10<tspan font-size="24" dy="-14" dx="1">-7</tspan></text>
<text transform="translate(948.7 1053.02) scale(1 1.09)" font-size="36.3" text-anchor="end" font-weight="bold" fill="#000" stroke="#000" stroke-width="0.8" stroke-linejoin="round">10<tspan font-size="24" dy="-14" dx="1">-9</tspan></text>
<text transform="translate(948.7 1145.86) scale(1 1.09)" font-size="36.3" text-anchor="end" font-weight="bold" fill="#000" stroke="#000" stroke-width="0.8" stroke-linejoin="round">10<tspan font-size="24" dy="-14" dx="1">-11</tspan></text>
<text transform="translate(948.7 1238.7) scale(1 1.09)" font-size="36.3" text-anchor="end" font-weight="bold" fill="#000" stroke="#000" stroke-width="0.8" stroke-linejoin="round">10<tspan font-size="24" dy="-14" dx="1">-13</tspan></text>
<text transform="translate(990.9 1266.2) scale(1 1.09)" font-size="36.3" text-anchor="middle" font-weight="bold" fill="#000" stroke="#000" stroke-width="0.8" stroke-linejoin="round">-20</text>
<text transform="translate(1135.1 1266.2) scale(1 1.09)" font-size="36.3" text-anchor="middle" font-weight="bold" fill="#000" stroke="#000" stroke-width="0.8" stroke-linejoin="round">-10</text>
<text transform="translate(1278.3 1266.2) scale(1 1.09)" font-size="36.3" text-anchor="middle" font-weight="bold" fill="#000" stroke="#000" stroke-width="0.8" stroke-linejoin="round">0</text>
<text transform="translate(1422.5 1266.2) scale(1 1.09)" font-size="36.3" text-anchor="middle" font-weight="bold" fill="#000" stroke="#000" stroke-width="0.8" stroke-linejoin="round">10</text>
<text transform="translate(1566.7 1266.2) scale(1 1.09)" font-size="36.3" text-anchor="middle" font-weight="bold" fill="#000" stroke="#000" stroke-width="0.8" stroke-linejoin="round">20</text>
<text x="1289.6" y="1319.6" font-size="54" text-anchor="middle" font-weight="bold" fill="#000" stroke="#000" stroke-width="0.8" stroke-linejoin="round">Gate Voltage, <tspan font-style="italic">V</tspan><tspan font-style="italic" font-size="38.5" dy="13">gs</tspan><tspan dy="-13"> (V)</tspan></text>
<text transform="translate(847.3 968.6) rotate(-90)" font-size="53.5" text-anchor="middle" font-weight="bold" fill="#000" stroke="#000" stroke-width="0.8" stroke-linejoin="round">Drain Current, <tspan font-style="italic">I</tspan><tspan font-style="italic" font-size="38.5" dy="13">ds</tspan><tspan dy="-13"> (A)</tspan></text>
<text x="960.7" y="697.4" font-size="51.8" text-anchor="start" font-weight="bold" fill="#000" stroke="#000" stroke-width="0.8" stroke-linejoin="round">(d) NBS</text>
<text x="978" y="762.5" font-size="37" text-anchor="start" font-weight="bold" fill="#000" stroke="#000" stroke-width="0.8" stroke-linejoin="round" letter-spacing="0.29">After UV+115<tspan font-size="28" dy="-14.5">o</tspan><tspan dy="14.5">C (90min)</tspan></text>
<text x="978" y="799.6" font-size="30.8" text-anchor="start" font-weight="bold" fill="#000" stroke="#000" stroke-width="0.8" stroke-linejoin="round"><tspan font-style="italic">stress V</tspan><tspan font-style="italic" font-size="22" dy="8.5">g</tspan><tspan dy="-8.5"> = -10 V</tspan></text>
<text x="977.7" y="1202.3" font-size="30.8" text-anchor="start" font-weight="bold" fill="#000" stroke="#000" stroke-width="0.8" stroke-linejoin="round"><tspan font-style="italic">V</tspan><tspan font-style="italic" font-size="22" dy="8.5">ds</tspan><tspan dy="-8.5"> = 5.0 V</tspan></text>
<text x="1000" y="956.3" font-size="45.5" text-anchor="start" font-weight="bold" fill="#000" stroke="#000" stroke-width="0.8" stroke-linejoin="round"><tspan font-family="'Liberation Serif','DejaVu Serif',serif" font-weight="normal" font-size="48.5" stroke-width="0.9">Δ</tspan><tspan dx="-1.5">V</tspan><tspan font-size="30" dy="7">th</tspan><tspan dy="-7"> = </tspan><tspan font-weight="normal" stroke-width="0.3">0.3 V</tspan></text>
<line x1="1377.3" y1="984.4" x2="1447.9" y2="984.4" stroke="#800000" stroke-width="6.3"/>
<text x="1465.8" y="995.6" font-size="31" text-anchor="start" font-weight="bold" fill="#000" stroke="#000" stroke-width="0.8" stroke-linejoin="round">0 s</text>
<line x1="1377.3" y1="1024.1" x2="1447.9" y2="1024.1" stroke="#ff8000" stroke-width="6.3" stroke-dasharray="11.2 18"/>
<text x="1465.8" y="1035.3" font-size="31" text-anchor="start" font-weight="bold" fill="#000" stroke="#000" stroke-width="0.8" stroke-linejoin="round">1 s</text>
<line x1="1377.3" y1="1063.8" x2="1447.9" y2="1063.8" stroke="#eec56c" stroke-width="6.3" stroke-dasharray="11.2 18"/>
<text x="1465.8" y="1075" font-size="31" text-anchor="start" font-weight="bold" fill="#000" stroke="#000" stroke-width="0.8" stroke-linejoin="round">10 s</text>
<line x1="1377.3" y1="1103.4" x2="1447.9" y2="1103.4" stroke="#008000" stroke-width="6.3" stroke-dasharray="11.2 18"/>
<text x="1465.8" y="1114.6" font-size="31" text-anchor="start" font-weight="bold" fill="#000" stroke="#000" stroke-width="0.8" stroke-linejoin="round">100 s</text>
<line x1="1377.3" y1="1142.9" x2="1447.9" y2="1142.9" stroke="#0000a0" stroke-width="6.3"/>
<text x="1465.8" y="1154.1" font-size="31" text-anchor="start" font-weight="bold" fill="#000" stroke="#000" stroke-width="0.8" stroke-linejoin="round">1000 s</text>
<path d="M1233.3 1028.3H1281.5V1016.7L1327 1039L1281.5 1061.3V1049.7H1233.3Z" fill="#ff0000"/>
</g>
<g fill="#fff" stroke="none"><polygon points="98.87,21.78 106.08,21.78 106.08,29.24 98.87,29.24"/><polygon points="111.78,21.78 118.54,21.78 118.54,29.24 111.78,29.24"/><polygon points="234.59,566.08 241.8,566.08 241.8,573.54 234.59,573.54"/><polygon points="247.5,566.08 254.26,566.08 254.26,573.54 247.5,573.54"/><polygon points="352.9,566.08 360.11,566.08 360.11,573.54 352.9,573.54"/><polygon points="365.81,566.08 372.57,566.08 372.57,573.54 365.81,573.54"/><polygon points="471.21,566.08 478.42,566.08 478.42,573.54 471.21,573.54"/><polygon points="484.12,566.08 490.88,566.08 490.88,573.54 484.12,573.54"/><polygon points="609.2,566.08 616.41,566.08 616.41,573.54 609.2,573.54"/><polygon points="622.11,566.08 628.87,566.08 628.87,573.54 622.11,573.54"/><polygon points="727.51,566.08 734.72,566.08 734.72,573.54 727.51,573.54"/><polygon points="740.42,566.08 747.18,566.08 747.18,573.54 740.42,573.54"/><polygon points="318.37,158.65 323.98,158.65 323.98,164.6 318.37,164.6"/><polygon points="328.39,158.65 333.67,158.65 333.67,164.6 328.39,164.6"/><polygon points="333.04,158.65 338.65,158.65 338.65,164.6 333.04,164.6"/><polygon points="343.06,158.65 348.34,158.65 348.34,164.6 343.06,164.6"/><polygon points="318.37,194.85 323.98,194.85 323.98,200.8 318.37,200.8"/><polygon points="328.39,194.85 333.67,194.85 333.67,200.8 328.39,200.8"/><polygon points="333.04,194.85 338.65,194.85 338.65,200.8 333.04,200.8"/><polygon points="343.06,194.85 348.34,194.85 348.34,200.8 343.06,200.8"/><polygon points="318.37,230.85 323.98,230.85 323.98,236.8 318.37,236.8"/><polygon points="328.39,230.85 333.67,230.85 333.67,236.8 328.39,236.8"/><polygon points="333.04,230.85 338.65,230.85 338.65,236.8 333.04,236.8"/><polygon points="343.06,230.85 348.34,230.85 348.34,236.8 343.06,236.8"/><polygon points="408.83,230.85 414.44,230.85 414.44,236.8 408.83,236.8"/><polygon points="418.84,230.85 424.12,230.85 424.12,236.8 418.84,236.8"/><polygon points="345.42,280.69 350.79,280.69 350.79,286.5 345.42,286.5"/><polygon points="355.01,280.69 360.07,280.69 360.07,286.5 355.01,286.5"/><polygon points="905.37,21.78 912.58,21.78 912.58,29.24 905.37,29.24"/><polygon points="918.28,21.78 925.04,21.78 925.04,29.24 918.28,29.24"/><polygon points="1042.49,566.08 1049.7,566.08 1049.7,573.54 1042.49,573.54"/><polygon points="1055.4,566.08 1062.16,566.08 1062.16,573.54 1055.4,573.54"/><polygon points="1161.95,566.08 1169.16,566.08 1169.16,573.54 1161.95,573.54"/><polygon points="1174.86,566.08 1181.62,566.08 1181.62,573.54 1174.86,573.54"/><polygon points="1281.41,566.08 1288.62,566.08 1288.62,573.54 1281.41,573.54"/><polygon points="1294.32,566.08 1301.08,566.08 1301.08,573.54 1294.32,573.54"/><polygon points="1420.55,566.08 1427.76,566.08 1427.76,573.54 1420.55,573.54"/><polygon points="1433.46,566.08 1440.22,566.08 1440.22,573.54 1433.46,573.54"/><polygon points="1540.01,566.08 1547.22,566.08 1547.22,573.54 1540.01,573.54"/><polygon points="1552.92,566.08 1559.68,566.08 1559.68,573.54 1552.92,573.54"/><polygon points="1123.97,158.65 1129.58,158.65 1129.58,164.6 1123.97,164.6"/><polygon points="1133.99,158.65 1139.27,158.65 1139.27,164.6 1133.99,164.6"/><polygon points="1138.64,158.65 1144.25,158.65 1144.25,164.6 1138.64,164.6"/><polygon points="1148.66,158.65 1153.94,158.65 1153.94,164.6 1148.66,164.6"/><polygon points="1123.97,194.85 1129.58,194.85 1129.58,200.8 1123.97,200.8"/><polygon points="1133.99,194.85 1139.27,194.85 1139.27,200.8 1133.99,200.8"/><polygon points="1138.64,194.85 1144.25,194.85 1144.25,200.8 1138.64,200.8"/><polygon points="1148.66,194.85 1153.94,194.85 1153.94,200.8 1148.66,200.8"/><polygon points="1123.97,230.85 1129.58,230.85 1129.58,236.8 1123.97,236.8"/><polygon points="1133.99,230.85 1139.27,230.85 1139.27,236.8 1133.99,236.8"/><polygon points="1138.64,230.85 1144.25,230.85 1144.25,236.8 1138.64,236.8"/><polygon points="1148.66,230.85 1153.94,230.85 1153.94,236.8 1148.66,236.8"/><polygon points="1214.43,230.85 1220.04,230.85 1220.04,236.8 1214.43,236.8"/><polygon points="1224.44,230.85 1229.72,230.85 1229.72,236.8 1224.44,236.8"/><polygon points="1145.75,280.69 1151.12,280.69 1151.12,286.5 1145.75,286.5"/><polygon points="1155.33,280.69 1160.39,280.69 1160.39,286.5 1155.33,286.5"/><polygon points="78.29,769.13 85.66,769.13 85.66,776.76 78.29,776.76"/><polygon points="91.48,769.13 98.38,769.13 98.38,776.76 91.48,776.76"/><polygon points="78.29,861.97 85.66,861.97 85.66,869.6 78.29,869.6"/><polygon points="91.48,861.97 98.38,861.97 98.38,869.6 91.48,869.6"/><polygon points="78.29,954.81 85.66,954.81 85.66,962.44 78.29,962.44"/><polygon points="91.48,954.81 98.38,954.81 98.38,962.44 91.48,962.44"/><polygon points="78.29,1047.65 85.66,1047.65 85.66,1055.28 78.29,1055.28"/><polygon points="91.48,1047.65 98.38,1047.65 98.38,1055.28 91.48,1055.28"/><polygon points="64.94,1140.49 72.3,1140.49 72.3,1148.12 64.94,1148.12"/><polygon points="78.12,1140.49 85.03,1140.49 85.03,1148.12 78.12,1148.12"/><polygon points="113.5,1126.6 118.77,1126.6 118.77,1132.86 113.5,1132.86"/><polygon points="122.9,1126.6 127.87,1126.6 127.87,1132.86 122.9,1132.86"/><polygon points="126.84,1126.6 132.11,1126.6 132.11,1132.86 126.84,1132.86"/><polygon points="136.24,1126.6 141.21,1126.6 141.21,1132.86 136.24,1132.86"/><polygon points="64.94,1233.33 72.3,1233.33 72.3,1240.96 64.94,1240.96"/><polygon points="78.12,1233.33 85.03,1233.33 85.03,1240.96 78.12,1240.96"/><polygon points="113.5,1219.44 118.77,1219.44 118.77,1225.7 113.5,1225.7"/><polygon points="122.9,1219.44 127.87,1219.44 127.87,1225.7 122.9,1225.7"/><polygon points="312.53,1260.53 319.9,1260.53 319.9,1268.16 312.53,1268.16"/><polygon points="325.72,1260.53 332.62,1260.53 332.62,1268.16 325.72,1268.16"/><polygon points="594.7,1260.53 602.07,1260.53 602.07,1268.16 594.7,1268.16"/><polygon points="607.89,1260.53 614.8,1260.53 614.8,1268.16 607.89,1268.16"/><polygon points="342.46,757.22 349.95,757.22 349.95,764.3 342.46,764.3"/><polygon points="355.87,757.22 362.88,757.22 362.88,764.3 355.87,764.3"/><polygon points="363.32,757.22 370.81,757.22 370.81,764.3 363.32,764.3"/><polygon points="376.73,757.22 383.74,757.22 383.74,764.3 376.73,764.3"/><polygon points="356.23,794.96 362.66,794.96 362.66,801.4 356.23,801.4"/><polygon points="367.73,794.96 373.76,794.96 373.76,801.4 367.73,801.4"/><polygon points="657.85,1030.64 664.32,1030.64 664.32,1037.1 657.85,1037.1"/><polygon points="669.41,1030.64 675.48,1030.64 675.48,1037.1 669.41,1037.1"/><polygon points="657.85,1070.34 664.32,1070.34 664.32,1076.8 657.85,1076.8"/><polygon points="669.41,1070.34 675.48,1070.34 675.48,1076.8 669.41,1076.8"/><polygon points="657.85,1109.94 664.32,1109.94 664.32,1116.4 657.85,1116.4"/><polygon points="669.41,1109.94 675.48,1109.94 675.48,1116.4 669.41,1116.4"/><polygon points="657.85,1149.44 664.32,1149.44 664.32,1155.9 657.85,1155.9"/><polygon points="669.41,1149.44 675.48,1149.44 675.48,1155.9 669.41,1155.9"/><polygon points="886.69,768.83 894.06,768.83 894.06,776.46 886.69,776.46"/><polygon points="899.88,768.83 906.78,768.83 906.78,776.46 899.88,776.46"/><polygon points="886.69,861.67 894.06,861.67 894.06,869.3 886.69,869.3"/><polygon points="899.88,861.67 906.78,861.67 906.78,869.3 899.88,869.3"/><polygon points="886.69,954.51 894.06,954.51 894.06,962.14 886.69,962.14"/><polygon points="899.88,954.51 906.78,954.51 906.78,962.14 899.88,962.14"/><polygon points="886.69,1047.35 894.06,1047.35 894.06,1054.98 886.69,1054.98"/><polygon points="899.88,1047.35 906.78,1047.35 906.78,1054.98 899.88,1054.98"/><polygon points="873.34,1140.19 880.7,1140.19 880.7,1147.82 873.34,1147.82"/><polygon points="886.52,1140.19 893.43,1140.19 893.43,1147.82 886.52,1147.82"/><polygon points="921.9,1126.3 927.17,1126.3 927.17,1132.56 921.9,1132.56"/><polygon points="931.3,1126.3 936.27,1126.3 936.27,1132.56 931.3,1132.56"/><polygon points="935.24,1126.3 940.51,1126.3 940.51,1132.56 935.24,1132.56"/><polygon points="944.64,1126.3 949.61,1126.3 949.61,1132.56 944.64,1132.56"/><polygon points="873.34,1233.03 880.7,1233.03 880.7,1240.66 873.34,1240.66"/><polygon points="886.52,1233.03 893.43,1233.03 893.43,1240.66 886.52,1240.66"/><polygon points="921.9,1219.14 927.17,1219.14 927.17,1225.4 921.9,1225.4"/><polygon points="931.3,1219.14 936.27,1219.14 936.27,1225.4 931.3,1225.4"/><polygon points="1121.63,1260.53 1129,1260.53 1129,1268.16 1121.63,1268.16"/><polygon points="1134.82,1260.53 1141.72,1260.53 1141.72,1268.16 1134.82,1268.16"/><polygon points="1403,1260.53 1410.37,1260.53 1410.37,1268.16 1403,1268.16"/><polygon points="1416.19,1260.53 1423.1,1260.53 1423.1,1268.16 1416.19,1268.16"/><polygon points="1150.96,757.22 1158.45,757.22 1158.45,764.3 1150.96,764.3"/><polygon points="1164.37,757.22 1171.38,757.22 1171.38,764.3 1164.37,764.3"/><polygon points="1171.82,757.22 1179.31,757.22 1179.31,764.3 1171.82,764.3"/><polygon points="1185.23,757.22 1192.24,757.22 1192.24,764.3 1185.23,764.3"/><polygon points="1157,794.96 1163.42,794.96 1163.42,801.4 1157,801.4"/><polygon points="1168.49,794.96 1174.53,794.96 1174.53,801.4 1168.49,801.4"/><polygon points="1466.15,1030.64 1472.62,1030.64 1472.62,1037.1 1466.15,1037.1"/><polygon points="1477.71,1030.64 1483.78,1030.64 1483.78,1037.1 1477.71,1037.1"/><polygon points="1466.15,1070.34 1472.62,1070.34 1472.62,1076.8 1466.15,1076.8"/><polygon points="1477.71,1070.34 1483.78,1070.34 1483.78,1076.8 1477.71,1076.8"/><polygon points="1466.15,1109.94 1472.62,1109.94 1472.62,1116.4 1466.15,1116.4"/><polygon points="1477.71,1109.94 1483.78,1109.94 1483.78,1116.4 1477.71,1116.4"/><polygon points="1466.15,1149.44 1472.62,1149.44 1472.62,1155.9 1466.15,1155.9"/><polygon points="1477.71,1149.44 1483.78,1149.44 1483.78,1155.9 1477.71,1155.9"/></g>
</svg></body></html>
